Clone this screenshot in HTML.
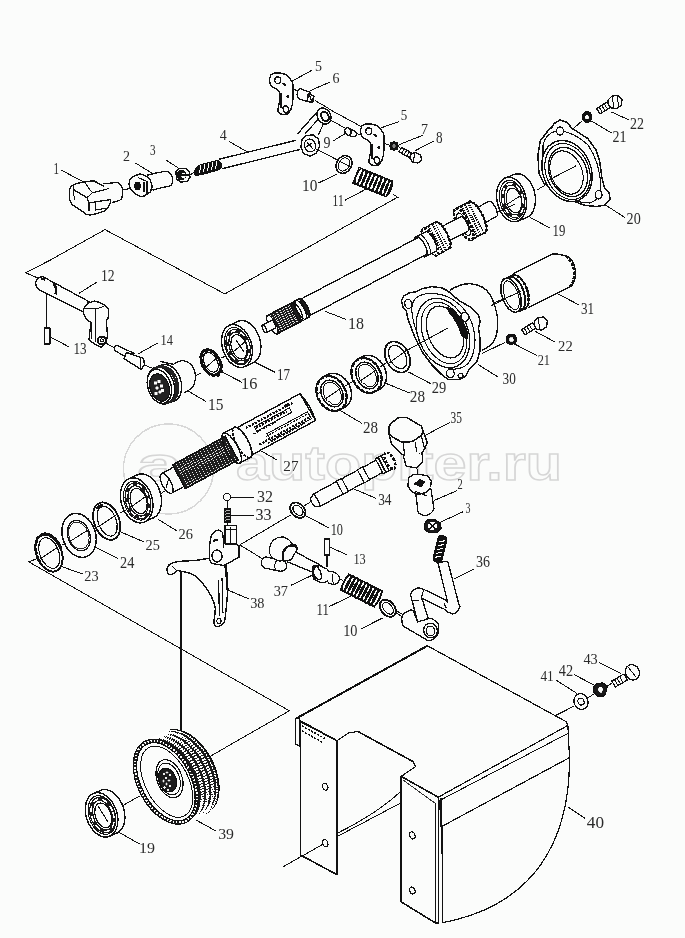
<!DOCTYPE html>
<html><head><meta charset="utf-8"><style>
html,body{margin:0;padding:0;background:#fbfcfb;}
body{width:685px;height:938px;overflow:hidden;}
svg{display:block;shape-rendering:crispEdges;}
.l{font-family:"Liberation Serif",serif;font-size:17px;fill:#2a2a2a;}
text{will-change:transform;}
.wm{font-family:"Liberation Sans",sans-serif;font-size:48px;font-weight:bold;fill:none;stroke:#d6d6d6;stroke-width:1.4;}
</style></head><body>
<svg width="685" height="938" viewBox="0 0 685 938">
<rect width="685" height="938" fill="#fbfcfb"/>
<text x="236" y="479.5" class="wm" textLength="326" lengthAdjust="spacingAndGlyphs">autopiter.ru</text>
<text x="137" y="480.5" class="wm" textLength="45" lengthAdjust="spacingAndGlyphs">a</text>
<ellipse cx="168.5" cy="469" rx="45" ry="45" transform="rotate(0 168.5 469)" fill="none" stroke="#d8d8d8" stroke-width="1.4" />
<polyline points="50.4,260 25.8,272.8 40,279" fill="none" stroke="#111" stroke-width="1" stroke-linejoin="round" />
<polyline points="50.4,260 105,229.6 224.8,293.9 398,197" fill="none" stroke="#111" stroke-width="1" stroke-linejoin="round" />
<polyline points="42,556.5 28.8,561.9 289.4,710.8 209,757" fill="none" stroke="#111" stroke-width="1" stroke-linejoin="round" />
<line x1="181" y1="572" x2="181" y2="733" stroke="#111" stroke-width="1.1"/>
<polygon points="296.3,718.4 427.4,645.8 566,721.6 567.9,725.4 438.6,797 401.2,776.4 415.6,766.5 413.2,761.7 358,731.5 348.8,732.8 337,740.7 300,720.5" fill="#fbfcfb" stroke="#111" stroke-width="1.2" stroke-linejoin="round" />
<line x1="296.3" y1="718.4" x2="427.4" y2="645.8" stroke="#111" stroke-width="2"/>
<polygon points="438.6,797 567.9,725.4 569.5,757.6 441.9,826.4" fill="#fbfcfb" stroke="#111" stroke-width="1.2" stroke-linejoin="round" />
<line x1="440.6" y1="800" x2="568.6" y2="733" stroke="#111" stroke-width="1"/>
<path d="M441.9,826.4 L569.5,757.6 C570,840 535,905 442.6,922.7 Z" fill="#fbfcfb" stroke="#111" stroke-width="1.2" stroke-linejoin="round" />
<path d="M337,836.6 L401.2,802.7" fill="none" stroke="#111" stroke-width="1" stroke-linejoin="round" />
<path d="M338.3,832.7 Q378,813 401.2,790.9" fill="none" stroke="#111" stroke-width="1" stroke-linejoin="round" />
<polygon points="300.5,721 337,740.7 337,874.7 300.5,855" fill="#fbfcfb" stroke="#111" stroke-width="1.6" stroke-linejoin="round" />
<polygon points="295.5,718.4 299.4,719 299.4,746 295.5,744" fill="#fbfcfb" stroke="#111" stroke-width="1.1" stroke-linejoin="round" />
<path d="M302,726 L326,739 M302,731 L322,742" stroke="#111" stroke-width="1.6" stroke-dasharray="2 1.5"/>
<ellipse cx="325.2" cy="786.7" rx="2.6" ry="3.6" transform="rotate(-20 325.2 786.7)" fill="#fbfcfb" stroke="#111" stroke-width="1.1" />
<ellipse cx="325.2" cy="843.2" rx="2.6" ry="3.6" transform="rotate(-20 325.2 843.2)" fill="#fbfcfb" stroke="#111" stroke-width="1.1" />
<line x1="283" y1="866.8" x2="322.5" y2="844.5" stroke="#111" stroke-width="1"/>
<polygon points="401.2,776.4 438.6,797.4 438.6,922.7 435,922.7 401.2,901.9" fill="#fbfcfb" stroke="#111" stroke-width="1.6" stroke-linejoin="round" />
<line x1="403" y1="780" x2="435.3" y2="803.4" stroke="#333" stroke-width="1"/>
<line x1="435.3" y1="803" x2="435.3" y2="922" stroke="#111" stroke-width="1"/>
<line x1="440.6" y1="798" x2="440.6" y2="827" stroke="#111" stroke-width="2"/>
<line x1="442.5" y1="826" x2="442.5" y2="922.7" stroke="#111" stroke-width="1.2"/>
<ellipse cx="412.3" cy="835.4" rx="2.6" ry="3.6" transform="rotate(-20 412.3 835.4)" fill="#fbfcfb" stroke="#111" stroke-width="1.1" />
<ellipse cx="412.3" cy="890.5" rx="2.6" ry="3.6" transform="rotate(-20 412.3 890.5)" fill="#fbfcfb" stroke="#111" stroke-width="1.1" />
<line x1="358" y1="731.5" x2="413.2" y2="761.7" stroke="#111" stroke-width="1.6"/>
<line x1="337" y1="740.7" x2="299.4" y2="721" stroke="#111" stroke-width="1.6"/>
<text x="586.8" y="828" textLength="17.2" lengthAdjust="spacingAndGlyphs" class="l" style="font-size:17.5px">40</text>
<line x1="585" y1="818.4" x2="568" y2="807" stroke="#111" stroke-width="1"/>
<ellipse cx="581" cy="701.6" rx="7" ry="8" transform="rotate(-20 581 701.6)" fill="#fbfcfb" stroke="#111" stroke-width="1.3" />
<ellipse cx="581" cy="701.6" rx="3" ry="3.5" transform="rotate(-20 581 701.6)" fill="#fbfcfb" stroke="#111" stroke-width="1.1" />
<polygon points="594,687 597,683.5 603,683 606.9,686.5 606.5,692.5 603,696.2 597,696 593.6,692" fill="#1a1a1a" stroke="#111" stroke-width="1.4" stroke-linejoin="round" />
<ellipse cx="600.5" cy="689.6" rx="2.2" ry="2.5" transform="rotate(0 600.5 689.6)" fill="#fbfcfb" stroke="#fff" stroke-width="0.8" />
<line x1="587.5" y1="698" x2="594" y2="694" stroke="#111" stroke-width="1"/>
<line x1="606.5" y1="686.5" x2="612" y2="683" stroke="#111" stroke-width="1"/>
<g transform="translate(617 682) rotate(-30)">
<polygon points="-4,-3.5 10,-3.5 10,3.5 -4,3.5" fill="#fbfcfb" stroke="#111" stroke-width="1.2" stroke-linejoin="round" />
<line x1="-1" y1="-3.5" x2="-1" y2="3.5" stroke="#111" stroke-width="1"/>
<line x1="2" y1="-3.5" x2="2" y2="3.5" stroke="#111" stroke-width="1"/>
<line x1="5" y1="-3.5" x2="5" y2="3.5" stroke="#111" stroke-width="1"/>
</g>
<ellipse cx="632.4" cy="672.3" rx="7" ry="7.8" transform="rotate(-25 632.4 672.3)" fill="#fbfcfb" stroke="#111" stroke-width="1.3" />
<line x1="628" y1="667" x2="636" y2="677" stroke="#111" stroke-width="1"/>
<line x1="554.6" y1="716" x2="573.5" y2="706.4" stroke="#111" stroke-width="1"/>
<text x="540.4" y="681" textLength="13.3" lengthAdjust="spacingAndGlyphs" class="l" style="font-size:15.6px">41</text>
<text x="558.8" y="675.8" textLength="14.3" lengthAdjust="spacingAndGlyphs" class="l" style="font-size:17.1px">42</text>
<text x="583.4" y="663.8" textLength="14.3" lengthAdjust="spacingAndGlyphs" class="l" style="font-size:15.6px">43</text>
<line x1="555.8" y1="679.9" x2="577" y2="693.5" stroke="#111" stroke-width="1"/>
<line x1="574.2" y1="674.7" x2="595" y2="685.5" stroke="#111" stroke-width="1"/>
<line x1="598.7" y1="662.5" x2="621.2" y2="673.7" stroke="#111" stroke-width="1"/>
<polygon points="133.3,766 133.4,763.6 133.5,761.2 133.8,758.9 134.3,756.7 134.8,754.6 135.5,752.6 136.3,750.7 137.2,749 138.2,747.4 139.3,745.9 140.5,744.5 141.9,743.3 143.3,742.3 144.8,741.4 165.3,731.8 166.9,731 168.6,730.5 170.3,730.1 172.2,729.8 174,729.7 175.9,729.8 177.9,730.1 179.9,730.5 181.9,731.1 183.9,731.9 186,732.8 188,733.8 190.1,735 192.1,736.4 194.1,737.9 196.1,739.5 198,741.3 199.9,743.2 201.7,745.2 203.5,747.3 205.2,749.5 206.8,751.8 208.4,754.2 209.8,756.6 211.2,759.1 212.5,761.7 213.7,764.3 214.7,766.9 215.7,769.6 216.5,772.2 217.2,774.9 217.8,777.5 218.3,780.2 218.6,782.8 218.9,785.3 219,787.8 218.9,790.2 218.8,792.6 218.5,794.9 218,797.1 217.5,799.2 216.8,801.2 216,803.1 215.1,804.8 214.1,806.4 213,807.9 211.8,809.3 210.4,810.5 209,811.5 207.5,812.4 187,822 185.4,822.8 183.7,823.3 182,823.7 180.1,824 178.3,824.1 176.4,824 174.4,823.7 172.4,823.3 170.4,822.7 168.4,821.9 166.3,821 164.3,820 162.2,818.8 160.2,817.4 158.2,815.9 156.2,814.3 154.3,812.5 152.4,810.6 150.6,808.6 148.8,806.5 147.1,804.3 145.5,802 143.9,799.6 142.5,797.2 141.1,794.7 139.8,792.1 138.6,789.5 137.6,786.9 136.6,784.2 135.8,781.6 135.1,778.9 134.5,776.3 134,773.6 133.7,771 133.4,768.5" fill="#1c1c1c" stroke="#111" stroke-width="1.3" stroke-linejoin="round" />
<line x1="193.2" y1="767.6" x2="210.0" y2="759.7" stroke="#fff" stroke-width="1.7" stroke-dasharray="3.5 2.2"/>
<line x1="194.4" y1="770.1" x2="211.3" y2="762.3" stroke="#fff" stroke-width="1.7" stroke-dasharray="3.5 2.2"/>
<line x1="195.6" y1="772.7" x2="212.4" y2="764.9" stroke="#fff" stroke-width="1.7" stroke-dasharray="3.5 2.2"/>
<line x1="196.7" y1="775.4" x2="213.5" y2="767.5" stroke="#fff" stroke-width="1.7" stroke-dasharray="3.5 2.2"/>
<line x1="197.6" y1="778.0" x2="214.4" y2="770.1" stroke="#fff" stroke-width="1.7" stroke-dasharray="3.5 2.2"/>
<line x1="198.5" y1="780.7" x2="215.3" y2="772.8" stroke="#fff" stroke-width="1.7" stroke-dasharray="3.5 2.2"/>
<line x1="199.2" y1="783.3" x2="216.0" y2="775.5" stroke="#fff" stroke-width="1.7" stroke-dasharray="3.5 2.2"/>
<line x1="199.8" y1="786.0" x2="216.6" y2="778.1" stroke="#fff" stroke-width="1.7" stroke-dasharray="3.5 2.2"/>
<line x1="200.3" y1="788.6" x2="217.1" y2="780.7" stroke="#fff" stroke-width="1.7" stroke-dasharray="3.5 2.2"/>
<line x1="200.6" y1="791.2" x2="217.4" y2="783.3" stroke="#fff" stroke-width="1.7" stroke-dasharray="3.5 2.2"/>
<line x1="200.8" y1="793.8" x2="217.6" y2="785.9" stroke="#fff" stroke-width="1.7" stroke-dasharray="3.5 2.2"/>
<line x1="200.9" y1="796.3" x2="217.7" y2="788.4" stroke="#fff" stroke-width="1.7" stroke-dasharray="3.5 2.2"/>
<line x1="200.9" y1="798.7" x2="217.7" y2="790.8" stroke="#fff" stroke-width="1.7" stroke-dasharray="3.5 2.2"/>
<line x1="200.7" y1="801.1" x2="217.5" y2="793.2" stroke="#fff" stroke-width="1.7" stroke-dasharray="3.5 2.2"/>
<line x1="200.4" y1="803.3" x2="217.2" y2="795.5" stroke="#fff" stroke-width="1.7" stroke-dasharray="3.5 2.2"/>
<line x1="200.0" y1="805.5" x2="216.8" y2="797.7" stroke="#fff" stroke-width="1.7" stroke-dasharray="3.5 2.2"/>
<line x1="199.5" y1="807.6" x2="216.3" y2="799.8" stroke="#fff" stroke-width="1.7" stroke-dasharray="3.5 2.2"/>
<line x1="198.8" y1="809.6" x2="215.6" y2="801.8" stroke="#fff" stroke-width="1.7" stroke-dasharray="3.5 2.2"/>
<line x1="198.0" y1="811.5" x2="214.8" y2="803.6" stroke="#fff" stroke-width="1.7" stroke-dasharray="3.5 2.2"/>
<line x1="197.1" y1="813.3" x2="213.9" y2="805.4" stroke="#fff" stroke-width="1.7" stroke-dasharray="3.5 2.2"/>
<line x1="196.1" y1="814.9" x2="212.9" y2="807.0" stroke="#fff" stroke-width="1.7" stroke-dasharray="3.5 2.2"/>
<line x1="194.9" y1="816.4" x2="211.8" y2="808.5" stroke="#fff" stroke-width="1.7" stroke-dasharray="3.5 2.2"/>
<line x1="193.7" y1="817.7" x2="210.5" y2="809.9" stroke="#fff" stroke-width="1.7" stroke-dasharray="3.5 2.2"/>
<line x1="192.4" y1="818.9" x2="209.2" y2="811.1" stroke="#fff" stroke-width="1.7" stroke-dasharray="3.5 2.2"/>
<line x1="191.0" y1="820.0" x2="207.8" y2="812.1" stroke="#fff" stroke-width="1.7" stroke-dasharray="3.5 2.2"/>
<line x1="189.4" y1="820.9" x2="206.2" y2="813.0" stroke="#fff" stroke-width="1.7" stroke-dasharray="3.5 2.2"/>
<line x1="187.8" y1="821.6" x2="204.7" y2="813.7" stroke="#fff" stroke-width="1.7" stroke-dasharray="3.5 2.2"/>
<line x1="186.2" y1="822.2" x2="203.0" y2="814.3" stroke="#fff" stroke-width="1.7" stroke-dasharray="3.5 2.2"/>
<line x1="184.4" y1="822.6" x2="201.2" y2="814.7" stroke="#fff" stroke-width="1.7" stroke-dasharray="3.5 2.2"/>
<line x1="182.6" y1="822.8" x2="199.4" y2="815.0" stroke="#fff" stroke-width="1.7" stroke-dasharray="3.5 2.2"/>
<line x1="180.7" y1="822.9" x2="197.6" y2="815.0" stroke="#fff" stroke-width="1.7" stroke-dasharray="3.5 2.2"/>
<line x1="178.8" y1="822.8" x2="195.6" y2="814.9" stroke="#fff" stroke-width="1.7" stroke-dasharray="3.5 2.2"/>
<line x1="139.6" y1="747.8" x2="156.4" y2="740.0" stroke="#fff" stroke-width="1.7" stroke-dasharray="3.5 2.2"/>
<line x1="140.6" y1="746.2" x2="157.5" y2="738.3" stroke="#fff" stroke-width="1.7" stroke-dasharray="3.5 2.2"/>
<line x1="141.8" y1="744.7" x2="158.6" y2="736.8" stroke="#fff" stroke-width="1.7" stroke-dasharray="3.5 2.2"/>
<line x1="143.0" y1="743.4" x2="159.8" y2="735.5" stroke="#fff" stroke-width="1.7" stroke-dasharray="3.5 2.2"/>
<line x1="144.3" y1="742.2" x2="161.1" y2="734.3" stroke="#fff" stroke-width="1.7" stroke-dasharray="3.5 2.2"/>
<line x1="145.8" y1="741.1" x2="162.6" y2="733.2" stroke="#fff" stroke-width="1.7" stroke-dasharray="3.5 2.2"/>
<line x1="147.3" y1="740.2" x2="164.1" y2="732.4" stroke="#fff" stroke-width="1.7" stroke-dasharray="3.5 2.2"/>
<line x1="148.9" y1="739.5" x2="165.7" y2="731.6" stroke="#fff" stroke-width="1.7" stroke-dasharray="3.5 2.2"/>
<line x1="150.6" y1="738.9" x2="167.4" y2="731.0" stroke="#fff" stroke-width="1.7" stroke-dasharray="3.5 2.2"/>
<line x1="152.3" y1="738.5" x2="169.1" y2="730.6" stroke="#fff" stroke-width="1.7" stroke-dasharray="3.5 2.2"/>
<line x1="154.1" y1="738.3" x2="170.9" y2="730.4" stroke="#fff" stroke-width="1.7" stroke-dasharray="3.5 2.2"/>
<line x1="156.0" y1="738.2" x2="172.8" y2="730.3" stroke="#fff" stroke-width="1.7" stroke-dasharray="3.5 2.2"/>
<line x1="157.9" y1="738.3" x2="174.7" y2="730.4" stroke="#fff" stroke-width="1.7" stroke-dasharray="3.5 2.2"/>
<line x1="159.9" y1="738.5" x2="176.7" y2="730.7" stroke="#fff" stroke-width="1.7" stroke-dasharray="3.5 2.2"/>
<line x1="161.8" y1="739.0" x2="178.7" y2="731.1" stroke="#fff" stroke-width="1.7" stroke-dasharray="3.5 2.2"/>
<line x1="163.9" y1="739.6" x2="180.7" y2="731.7" stroke="#fff" stroke-width="1.7" stroke-dasharray="3.5 2.2"/>
<line x1="165.9" y1="740.3" x2="182.7" y2="732.4" stroke="#fff" stroke-width="1.7" stroke-dasharray="3.5 2.2"/>
<line x1="167.9" y1="741.2" x2="184.7" y2="733.3" stroke="#fff" stroke-width="1.7" stroke-dasharray="3.5 2.2"/>
<line x1="170.0" y1="742.3" x2="186.8" y2="734.4" stroke="#fff" stroke-width="1.7" stroke-dasharray="3.5 2.2"/>
<line x1="172.0" y1="743.5" x2="188.8" y2="735.6" stroke="#fff" stroke-width="1.7" stroke-dasharray="3.5 2.2"/>
<line x1="174.0" y1="744.9" x2="190.9" y2="737.0" stroke="#fff" stroke-width="1.7" stroke-dasharray="3.5 2.2"/>
<line x1="176.0" y1="746.4" x2="192.9" y2="738.5" stroke="#fff" stroke-width="1.7" stroke-dasharray="3.5 2.2"/>
<line x1="178.0" y1="748.0" x2="194.8" y2="740.1" stroke="#fff" stroke-width="1.7" stroke-dasharray="3.5 2.2"/>
<line x1="179.9" y1="749.8" x2="196.8" y2="741.9" stroke="#fff" stroke-width="1.7" stroke-dasharray="3.5 2.2"/>
<line x1="181.8" y1="751.6" x2="198.6" y2="743.8" stroke="#fff" stroke-width="1.7" stroke-dasharray="3.5 2.2"/>
<line x1="183.7" y1="753.6" x2="200.5" y2="745.8" stroke="#fff" stroke-width="1.7" stroke-dasharray="3.5 2.2"/>
<line x1="185.4" y1="755.8" x2="202.3" y2="747.9" stroke="#fff" stroke-width="1.7" stroke-dasharray="3.5 2.2"/>
<line x1="187.2" y1="758.0" x2="204.0" y2="750.1" stroke="#fff" stroke-width="1.7" stroke-dasharray="3.5 2.2"/>
<line x1="188.8" y1="760.2" x2="205.6" y2="752.4" stroke="#fff" stroke-width="1.7" stroke-dasharray="3.5 2.2"/>
<line x1="190.3" y1="762.6" x2="207.1" y2="754.8" stroke="#fff" stroke-width="1.7" stroke-dasharray="3.5 2.2"/>
<line x1="191.8" y1="765.1" x2="208.6" y2="757.2" stroke="#fff" stroke-width="1.7" stroke-dasharray="3.5 2.2"/>
<ellipse cx="165.9" cy="781.7" rx="28" ry="45.5" transform="rotate(-27.6 165.9 781.7)" fill="#fbfcfb" stroke="#111" stroke-width="1.3" />
<ellipse cx="165.9" cy="781.7" rx="26.7" ry="44.2" transform="rotate(-27.6 165.9 781.7)" fill="none" stroke="#1a1a1a" stroke-width="3" stroke-dasharray="1.6 1.6"/>
<ellipse cx="165.9" cy="781.7" rx="24.7" ry="42.2" transform="rotate(-27.6 165.9 781.7)" fill="none" stroke="#111" stroke-width="1.3" />
<ellipse cx="166.7" cy="781.7" rx="21.5" ry="38.5" transform="rotate(-27.6 166.7 781.7)" fill="none" stroke="#111" stroke-width="1.0" />
<ellipse cx="169.5" cy="778.7" rx="12.5" ry="19.8" transform="rotate(-20 169.5 778.7)" fill="#fbfcfb" stroke="#111" stroke-width="1.2" />
<ellipse cx="169" cy="779" rx="10.5" ry="16.5" transform="rotate(-20 169 779)" fill="none" stroke="#111" stroke-width="1.0" />
<ellipse cx="167.6" cy="780" rx="8.5" ry="12.2" transform="rotate(-22 167.6 780)" fill="#1c1c1c" stroke="#111" stroke-width="1.2" />
<ellipse cx="164" cy="774" rx="1.1" ry="1.1" transform="rotate(0 164 774)" fill="#eee" stroke="#eee" stroke-width="0.3" />
<ellipse cx="167" cy="772.5" rx="1.1" ry="1.1" transform="rotate(0 167 772.5)" fill="#eee" stroke="#eee" stroke-width="0.3" />
<ellipse cx="170" cy="775" rx="1.1" ry="1.1" transform="rotate(0 170 775)" fill="#eee" stroke="#eee" stroke-width="0.3" />
<ellipse cx="166" cy="778" rx="1.1" ry="1.1" transform="rotate(0 166 778)" fill="#eee" stroke="#eee" stroke-width="0.3" />
<ellipse cx="169" cy="780.5" rx="1.1" ry="1.1" transform="rotate(0 169 780.5)" fill="#eee" stroke="#eee" stroke-width="0.3" />
<ellipse cx="163.5" cy="781" rx="1.1" ry="1.1" transform="rotate(0 163.5 781)" fill="#eee" stroke="#eee" stroke-width="0.3" />
<ellipse cx="166.5" cy="784" rx="1.1" ry="1.1" transform="rotate(0 166.5 784)" fill="#eee" stroke="#eee" stroke-width="0.3" />
<ellipse cx="170" cy="786" rx="1.1" ry="1.1" transform="rotate(0 170 786)" fill="#eee" stroke="#eee" stroke-width="0.3" />
<ellipse cx="164.5" cy="787.5" rx="1.1" ry="1.1" transform="rotate(0 164.5 787.5)" fill="#eee" stroke="#eee" stroke-width="0.3" />
<ellipse cx="168" cy="790" rx="1.1" ry="1.1" transform="rotate(0 168 790)" fill="#eee" stroke="#eee" stroke-width="0.3" />
<text x="218.2" y="838.5" textLength="15.8" lengthAdjust="spacingAndGlyphs" class="l" style="font-size:14.5px">39</text>
<line x1="216" y1="831" x2="196" y2="820" stroke="#111" stroke-width="1"/>
<polygon points="85.3,810.2 85.3,808.3 85.5,806.5 85.7,804.7 86.1,803 86.6,801.4 87.2,799.9 87.9,798.5 88.7,797.3 89.6,796.2 90.7,795.2 91.7,794.3 92.9,793.7 99.9,790.7 101.1,790.1 102.4,789.8 103.8,789.6 105.1,789.6 106.5,789.7 108,790.1 109.4,790.6 110.8,791.2 112.2,792 113.6,793 114.9,794.1 116.2,795.3 117.4,796.7 118.6,798.1 119.6,799.7 120.6,801.4 121.6,803.1 122.4,805 123.1,806.8 123.7,808.7 124.1,810.7 124.5,812.6 124.7,814.5 124.9,816.4 124.9,818.3 124.7,820.1 124.5,821.9 124.1,823.6 123.6,825.2 123,826.7 122.3,828.1 121.5,829.3 120.6,830.4 119.5,831.4 118.5,832.3 117.3,832.9 110.3,835.9 109.1,836.5 107.8,836.8 106.4,837 105.1,837 103.7,836.9 102.2,836.5 100.8,836 99.4,835.4 98,834.6 96.6,833.6 95.3,832.5 94,831.3 92.8,829.9 91.6,828.5 90.6,826.9 89.6,825.2 88.6,823.5 87.8,821.6 87.1,819.8 86.5,817.9 86.1,815.9 85.7,814 85.5,812.1" fill="#fbfcfb" stroke="#111" stroke-width="1.4" stroke-linejoin="round" />
<ellipse cx="101.6" cy="814.8" rx="15.3" ry="22.9" transform="rotate(-19 101.6 814.8)" fill="#fbfcfb" stroke="#111" stroke-width="1.4" />
<ellipse cx="102" cy="815" rx="13" ry="20" transform="rotate(-19 102 815)" fill="none" stroke="#111" stroke-width="1.1" />
<ellipse cx="102.6" cy="815.2" rx="10.6" ry="16.8" transform="rotate(-19 102.6 815.2)" fill="none" stroke="#1a1a1a" stroke-width="4" />
<ellipse cx="102.6" cy="815.2" rx="10.6" ry="16.8" transform="rotate(-19 102.6 815.2)" fill="none" stroke="#fff" stroke-width="1.6" stroke-dasharray="6 4"/>
<ellipse cx="103.2" cy="815.4" rx="7.8" ry="12.8" transform="rotate(-19 103.2 815.4)" fill="#fbfcfb" stroke="#111" stroke-width="1.2" />
<line x1="98" y1="806" x2="108" y2="822" stroke="#111" stroke-width="1"/>
<text x="139" y="852.7" textLength="16" lengthAdjust="spacingAndGlyphs" class="l" style="font-size:15.5px">19</text>
<line x1="118" y1="831.7" x2="139.6" y2="844" stroke="#111" stroke-width="1"/>
<line x1="123.2" y1="805.4" x2="139.6" y2="796" stroke="#111" stroke-width="1"/>
<polygon points="69.6,189.5 71.2,186.5 75.2,183.9 84.4,181.9 93.6,180.8 97.7,182.9 102.3,185.4 107.9,188 110.5,191.6 111.5,195.7 110.5,202.8 107.9,207.9 104.9,211 98.7,213 90.6,215 86.5,214.6 83.4,212 77.3,207.9 71.7,204.3 69.6,199.7" fill="#fbfcfb" stroke="#111" stroke-width="1.4" stroke-linejoin="round" />
<path d="M102.8,183.9 L117.1,182.4 Q121.5,184 122.5,189 Q123.5,196 120.7,199.7 Q117,202 112,202.3" fill="#fbfcfb" stroke="#111" stroke-width="1.3" stroke-linejoin="round" />
<polyline points="74.2,190 87,197.7 89,203 89,211" fill="none" stroke="#111" stroke-width="1.3" stroke-linejoin="round" />
<polyline points="89.5,202.8 110,199.7" fill="none" stroke="#111" stroke-width="1.3" stroke-linejoin="round" />
<polyline points="95.7,203 95.7,210 108,208" fill="none" stroke="#111" stroke-width="1.2" stroke-linejoin="round" />
<polyline points="87,197.7 92,193 109,188.5" fill="none" stroke="#111" stroke-width="1.1" stroke-linejoin="round" />
<polyline points="74,186 73,192 75,200" fill="none" stroke="#111" stroke-width="1.1" stroke-linejoin="round" />
<polyline points="84.4,181.9 91.6,192" fill="none" stroke="#111" stroke-width="1.0" stroke-linejoin="round" />
<line x1="122.8" y1="190" x2="130" y2="188.5" stroke="#111" stroke-width="1"/>
<text x="53.5" y="174" textLength="5.5" lengthAdjust="spacingAndGlyphs" class="l" style="font-size:17.5px">1</text>
<line x1="61" y1="170" x2="85.5" y2="183" stroke="#111" stroke-width="1"/>
<polyline points="147,175.3 154.6,173.3 165.9,171.2" fill="none" stroke="#111" stroke-width="1.3" stroke-linejoin="round" />
<path d="M165.9,171.2 Q170,172 172,176 Q174,182 171,185.5 Q168,187 163.8,187.1 L152.6,190.1" fill="none" stroke="#111" stroke-width="1.3" stroke-linejoin="round" />
<polygon points="129.6,180.4 133.2,176.4 140.3,173.8 146.5,176.4 150.5,180.4 152.1,186.6 150.5,191.7 144.9,195.8 141.3,196.8 135.2,193.7 130.6,189.1 129.1,184.5" fill="#fbfcfb" stroke="#111" stroke-width="1.4" stroke-linejoin="round" />
<polyline points="138,177.5 147,181.5 147,193.5" fill="none" stroke="#111" stroke-width="1.1" stroke-linejoin="round" />
<ellipse cx="137.5" cy="186" rx="2.8" ry="3.8" transform="rotate(0 137.5 186)" fill="#111" stroke="#111" stroke-width="1" />
<line x1="144" y1="182" x2="144" y2="192" stroke="#111" stroke-width="1.1"/>
<text x="123" y="161" textLength="7" lengthAdjust="spacingAndGlyphs" class="l" style="font-size:14.5px">2</text>
<line x1="134.7" y1="162.6" x2="153.1" y2="173.8" stroke="#111" stroke-width="1"/>
<polygon points="176,172 179,168.5 185,168.2 189.5,171.5 189.9,177.5 187,181.5 181,182 176.5,179" fill="#fbfcfb" stroke="#111" stroke-width="1.4" stroke-linejoin="round" />
<ellipse cx="181.5" cy="175" rx="3.5" ry="4" transform="rotate(0 181.5 175)" fill="#111" stroke="#111" stroke-width="2.4" />
<ellipse cx="183.5" cy="175.5" rx="2.2" ry="2.5" transform="rotate(0 183.5 175.5)" fill="#fbfcfb" stroke="#fff" stroke-width="0.8" />
<line x1="176" y1="175" x2="189" y2="175" stroke="#111" stroke-width="1.2"/>
<text x="150" y="155" textLength="5.6" lengthAdjust="spacingAndGlyphs" class="l" style="font-size:15.6px">3</text>
<line x1="165.9" y1="160" x2="178" y2="167.7" stroke="#111" stroke-width="1"/>
<line x1="189" y1="175.5" x2="194" y2="172.5" stroke="#111" stroke-width="1"/>
<polyline points="219.2,159.2 295.6,140.4" fill="none" stroke="#111" stroke-width="1.3" stroke-linejoin="round" />
<polyline points="221.8,168.8 299.9,149.5" fill="none" stroke="#111" stroke-width="1.3" stroke-linejoin="round" />
<path d="M196,169 Q193,172 195.5,175.5 L203,174 L216,170.5 Q222,169.5 221.5,164 Q220,160.5 215.5,161 L201,164.8 Q197,166 196,169 Z" fill="#111" stroke="#111" stroke-width="1.4" stroke-linejoin="round" />
<line x1="199.5" y1="172.8" x2="201" y2="165.5" stroke="#fff" stroke-width="1"/>
<line x1="203.5" y1="171.8" x2="205" y2="164.5" stroke="#fff" stroke-width="1"/>
<line x1="207.5" y1="170.8" x2="209" y2="163.5" stroke="#fff" stroke-width="1"/>
<line x1="211.5" y1="169.8" x2="213" y2="162.5" stroke="#fff" stroke-width="1"/>
<line x1="215.5" y1="168.8" x2="217" y2="161.5" stroke="#fff" stroke-width="1"/>
<text x="219.7" y="140" textLength="7" lengthAdjust="spacingAndGlyphs" class="l" style="font-size:14.5px">4</text>
<line x1="229" y1="141.5" x2="247.7" y2="152" stroke="#111" stroke-width="1"/>
<polyline points="297.3,134.2 318.3,110.5" fill="none" stroke="#111" stroke-width="1.3" stroke-linejoin="round" />
<polyline points="305.1,133.3 321.8,115.8" fill="none" stroke="#111" stroke-width="1.3" stroke-linejoin="round" />
<polyline points="323.5,123.6 318.3,135" fill="none" stroke="#111" stroke-width="1.2" stroke-linejoin="round" />
<ellipse cx="324" cy="116" rx="6.5" ry="8.5" transform="rotate(-30 324 116)" fill="#fbfcfb" stroke="#111" stroke-width="1.4" />
<ellipse cx="325" cy="116.5" rx="3.5" ry="5" transform="rotate(-30 325 116.5)" fill="#fbfcfb" stroke="#111" stroke-width="2" />
<polygon points="302,140 306,135.5 313,135 318.5,139 319.5,146 316.5,153 310,156 303.5,153.5 301,147" fill="#fbfcfb" stroke="#111" stroke-width="1.4" stroke-linejoin="round" />
<ellipse cx="310" cy="145.5" rx="5.5" ry="6.5" transform="rotate(-20 310 145.5)" fill="#fbfcfb" stroke="#111" stroke-width="1.2" />
<line x1="307" y1="142" x2="313" y2="149" stroke="#111" stroke-width="1.2"/>
<line x1="306" y1="147" x2="312" y2="143" stroke="#111" stroke-width="1"/>
<text x="323.5" y="148.2" textLength="7" lengthAdjust="spacingAndGlyphs" class="l" style="font-size:15.9px">9</text>
<line x1="333.6" y1="140.7" x2="347.7" y2="132" stroke="#111" stroke-width="1"/>
<line x1="316.5" y1="149" x2="337.7" y2="160.2" stroke="#111" stroke-width="1"/>
<line x1="328.8" y1="109" x2="362.8" y2="127.4" stroke="#111" stroke-width="1"/>
<line x1="315" y1="100.5" x2="328.8" y2="108.5" stroke="#111" stroke-width="1"/>
<line x1="330.5" y1="120.1" x2="345" y2="128" stroke="#111" stroke-width="1"/>
<polygon points="269.4,79.5 270.8,75.1 274.3,72.9 279.5,72.9 285.2,74.3 289.1,77.3 292.2,82.1 293.5,87.4 293.1,95.3 292.6,103.2 290.9,109.3 288.3,113.7 283.9,114.5 279.5,113.7 277.8,111 278.6,105.8 280,98.8 279.5,92.6 276.9,89.1 273.4,87.4 270.3,84.8" fill="#fbfcfb" stroke="#111" stroke-width="1.4" stroke-linejoin="round" />
<ellipse cx="277.8" cy="80.2" rx="3" ry="3.3" transform="rotate(0 277.8 80.2)" fill="#fbfcfb" stroke="#111" stroke-width="1.3" />
<ellipse cx="285.9" cy="109.3" rx="2.7" ry="3.4" transform="rotate(-20 285.9 109.3)" fill="#fbfcfb" stroke="#111" stroke-width="1.3" />
<ellipse cx="287.8" cy="96.6" rx="0.9" ry="0.9" transform="rotate(0 287.8 96.6)" fill="#111" stroke="#111" stroke-width="1" />
<line x1="280.8" y1="93" x2="280.6" y2="108" stroke="#111" stroke-width="2"/>
<polyline points="283,83 285.6,86" fill="none" stroke="#111" stroke-width="2" stroke-linejoin="round" />
<line x1="292.2" y1="84" x2="293.5" y2="99" stroke="#111" stroke-width="1.0"/>
<polygon points="360.4,130.5 361.8,126.1 365.3,123.9 370.5,123.9 376.2,125.3 380.1,128.3 383.2,133.1 384.5,138.4 384.1,146.3 383.6,154.2 381.9,160.3 379.3,164.7 374.9,165.5 370.5,164.7 368.8,162 369.6,156.8 371,149.8 370.5,143.6 367.9,140.1 364.4,138.4 361.3,135.8" fill="#fbfcfb" stroke="#111" stroke-width="1.4" stroke-linejoin="round" />
<ellipse cx="368.8" cy="131.2" rx="3" ry="3.3" transform="rotate(0 368.8 131.2)" fill="#fbfcfb" stroke="#111" stroke-width="1.3" />
<ellipse cx="376.9" cy="160.3" rx="2.7" ry="3.4" transform="rotate(-20 376.9 160.3)" fill="#fbfcfb" stroke="#111" stroke-width="1.3" />
<ellipse cx="378.8" cy="147.6" rx="0.9" ry="0.9" transform="rotate(0 378.8 147.6)" fill="#111" stroke="#111" stroke-width="1" />
<line x1="371.8" y1="144" x2="371.6" y2="159" stroke="#111" stroke-width="2"/>
<polyline points="374,134 376.6,137" fill="none" stroke="#111" stroke-width="2" stroke-linejoin="round" />
<line x1="383.2" y1="135" x2="384.5" y2="150" stroke="#111" stroke-width="1.0"/>
<path d="M300.5,88.7 L310.6,92.6 L307.5,101.8 L299.7,99.2 Q296.5,97 297.2,93 Q298.2,88.8 300.5,88.7 Z" fill="#fbfcfb" stroke="#111" stroke-width="1.3" stroke-linejoin="round" />
<polygon points="308.5,93.5 313.8,96.2 312.5,102.5 307,101.2" fill="#fbfcfb" stroke="#111" stroke-width="1.6" stroke-linejoin="round" />
<line x1="309.5" y1="95" x2="311.5" y2="101" stroke="#111" stroke-width="1.2"/>
<line x1="293.5" y1="89" x2="297.5" y2="91" stroke="#111" stroke-width="1"/>
<text x="315" y="71" textLength="7" lengthAdjust="spacingAndGlyphs" class="l" style="font-size:15.2px">5</text>
<line x1="292.6" y1="80.8" x2="311.9" y2="70.3" stroke="#111" stroke-width="1"/>
<text x="332.4" y="83" textLength="7" lengthAdjust="spacingAndGlyphs" class="l" style="font-size:14.5px">6</text>
<line x1="309.7" y1="90.9" x2="330" y2="82" stroke="#111" stroke-width="1"/>
<text x="400.8" y="120" textLength="6.5" lengthAdjust="spacingAndGlyphs" class="l" style="font-size:14.5px">5</text>
<line x1="399" y1="121.6" x2="379" y2="128.6" stroke="#111" stroke-width="1"/>
<path d="M347,127.5 L354.5,131 Q357.5,133.5 356,136 L351.5,136.8 L345.5,133.5 Q343.5,129.5 347,127.5 Z" fill="#fbfcfb" stroke="#111" stroke-width="1.3" stroke-linejoin="round" />
<ellipse cx="348" cy="131.5" rx="3" ry="4" transform="rotate(-25 348 131.5)" fill="#fbfcfb" stroke="#111" stroke-width="1.3" />
<line x1="352" y1="129.5" x2="350" y2="136" stroke="#111" stroke-width="1.2"/>
<line x1="356.5" y1="133.5" x2="361" y2="135" stroke="#111" stroke-width="1"/>
<polygon points="398.9,146 397.4,147.4 397.5,149.5 395.4,149.4 394,150.9 392.6,149.4 390.5,149.5 390.6,147.4 389.1,146 390.6,144.6 390.5,142.5 392.6,142.6 394,141.1 395.4,142.6 397.5,142.5 397.4,144.6" fill="#111" stroke="#111" stroke-width="1" stroke-linejoin="round" />
<ellipse cx="394" cy="146" rx="1.5" ry="1.8" transform="rotate(0 394 146)" fill="#888" stroke="#888" stroke-width="0.6" />
<g transform="translate(405.5 152.5) rotate(30)">
<polygon points="-6,-2.6 6,-2.6 6,2.6 -6,2.6" fill="#fbfcfb" stroke="#111" stroke-width="1.3" stroke-linejoin="round" />
<line x1="-3" y1="-2.6" x2="-3" y2="2.6" stroke="#111" stroke-width="1"/>
<line x1="0" y1="-2.6" x2="0" y2="2.6" stroke="#111" stroke-width="1"/>
<line x1="3" y1="-2.6" x2="3" y2="2.6" stroke="#111" stroke-width="1"/>
</g>
<polygon points="411,154 415,152.5 420.5,155 421.7,160 418,163 412.5,162 410,158" fill="#fbfcfb" stroke="#111" stroke-width="1.4" stroke-linejoin="round" />
<line x1="414.5" y1="153" x2="413.5" y2="162" stroke="#111" stroke-width="1.1"/>
<text x="421" y="134" textLength="7" lengthAdjust="spacingAndGlyphs" class="l" style="font-size:14.5px">7</text>
<line x1="422.5" y1="135.4" x2="399" y2="144.7" stroke="#111" stroke-width="1"/>
<text x="436" y="143" textLength="6.6" lengthAdjust="spacingAndGlyphs" class="l" style="font-size:15.9px">8</text>
<line x1="434" y1="141" x2="415.5" y2="150.5" stroke="#111" stroke-width="1"/>
<line x1="383" y1="143" x2="389" y2="145" stroke="#111" stroke-width="1"/>
<line x1="399.5" y1="147.5" x2="401" y2="148.5" stroke="#111" stroke-width="1"/>
<ellipse cx="344" cy="164.5" rx="7.5" ry="9.3" transform="rotate(30 344 164.5)" fill="#fbfcfb" stroke="#111" stroke-width="1.6" />
<ellipse cx="344" cy="164.5" rx="5.2" ry="7" transform="rotate(30 344 164.5)" fill="none" stroke="#111" stroke-width="1.0" />
<line x1="338" y1="160.5" x2="351" y2="167" stroke="#111" stroke-width="1"/>
<text x="302" y="191.4" textLength="15.4" lengthAdjust="spacingAndGlyphs" class="l" style="font-size:17.5px">10</text>
<line x1="318.5" y1="183" x2="337" y2="174" stroke="#111" stroke-width="1"/>
<g transform="translate(373.5 182.5) rotate(22)">
<polygon points="-19,-8.5 17,-8.5 17,8.5 -19,8.5" fill="#fbfcfb" stroke="#111" stroke-width="1.2" stroke-linejoin="round" />
<ellipse cx="-16.0" cy="0" rx="2.6" ry="8.5" fill="none" stroke="#111" stroke-width="1.7"/>
<ellipse cx="-12.0" cy="0" rx="2.6" ry="8.5" fill="none" stroke="#111" stroke-width="1.7"/>
<ellipse cx="-8.0" cy="0" rx="2.6" ry="8.5" fill="none" stroke="#111" stroke-width="1.7"/>
<ellipse cx="-4.0" cy="0" rx="2.6" ry="8.5" fill="none" stroke="#111" stroke-width="1.7"/>
<ellipse cx="0.0" cy="0" rx="2.6" ry="8.5" fill="none" stroke="#111" stroke-width="1.7"/>
<ellipse cx="4.0" cy="0" rx="2.6" ry="8.5" fill="none" stroke="#111" stroke-width="1.7"/>
<ellipse cx="8.0" cy="0" rx="2.6" ry="8.5" fill="none" stroke="#111" stroke-width="1.7"/>
<ellipse cx="12.0" cy="0" rx="2.6" ry="8.5" fill="none" stroke="#111" stroke-width="1.7"/>
<ellipse cx="16.0" cy="0" rx="2.6" ry="8.5" fill="none" stroke="#111" stroke-width="1.7"/>
</g>
<text x="332.6" y="206.1" textLength="11.1" lengthAdjust="spacingAndGlyphs" class="l" style="font-size:16.8px">11</text>
<line x1="344.9" y1="200.3" x2="365.9" y2="189.2" stroke="#111" stroke-width="1"/>
<line x1="392.7" y1="193.9" x2="398.6" y2="198" stroke="#111" stroke-width="1"/>
<polygon points="554.2,123.5 560,120 567,122.4 571.8,128.2 588,138.7 596.3,150.4 599.8,162 602,178.4 604.5,187.8 609,192.5 610.3,199.5 604.5,205.3 596.3,206.5 584.6,205.3 569.4,199.5 553,190 543.7,183 539,173.8 537.9,155 540.2,141 547.2,131.7 552,127" fill="#fbfcfb" stroke="#111" stroke-width="1.5" stroke-linejoin="round" />
<path d="M543,145 Q545,134 556,131 Q572,130 588,145 Q600,162 601,188 Q600,200 590,203 Q572,203 556,190 Q544,178 543,160 Z" fill="none" stroke="#111" stroke-width="1.1" stroke-linejoin="round" />
<ellipse cx="567" cy="171" rx="24" ry="31.5" transform="rotate(-22 567 171)" fill="#fbfcfb" stroke="#111" stroke-width="1.4" />
<ellipse cx="567.5" cy="171.5" rx="21.5" ry="29" transform="rotate(-22 567.5 171.5)" fill="none" stroke="#111" stroke-width="1.1" />
<ellipse cx="568" cy="172" rx="18.5" ry="25.5" transform="rotate(-22 568 172)" fill="#fbfcfb" stroke="#111" stroke-width="1.4" />
<ellipse cx="566.5" cy="172.5" rx="15.5" ry="22.5" transform="rotate(-22 566.5 172.5)" fill="none" stroke="#111" stroke-width="1.1" />
<ellipse cx="560" cy="131" rx="3.4" ry="4" transform="rotate(0 560 131)" fill="#fbfcfb" stroke="#111" stroke-width="1.3" />
<ellipse cx="598.6" cy="194.7" rx="3.4" ry="4.2" transform="rotate(0 598.6 194.7)" fill="#fbfcfb" stroke="#111" stroke-width="1.3" />
<line x1="547" y1="181" x2="576.4" y2="165.6" stroke="#111" stroke-width="1"/>
<line x1="582" y1="121" x2="574" y2="128" stroke="#111" stroke-width="1"/>
<text x="626.6" y="224" textLength="14.1" lengthAdjust="spacingAndGlyphs" class="l" style="font-size:17.5px">20</text>
<line x1="603.9" y1="204" x2="624.9" y2="217.5" stroke="#111" stroke-width="1"/>
<g transform="translate(605 107) rotate(-32)">
<polygon points="-8,-3.2 5,-3.2 5,3.2 -8,3.2" fill="#fbfcfb" stroke="#111" stroke-width="1.3" stroke-linejoin="round" />
<line x1="-5" y1="-3.2" x2="-5" y2="3.2" stroke="#111" stroke-width="1"/>
<line x1="-2" y1="-3.2" x2="-2" y2="3.2" stroke="#111" stroke-width="1"/>
<line x1="1" y1="-3.2" x2="1" y2="3.2" stroke="#111" stroke-width="1"/>
</g>
<polygon points="608,100 612,96 618,95.5 622,99 621.5,105 617,108.4 611,108 608,104" fill="#fbfcfb" stroke="#111" stroke-width="1.4" stroke-linejoin="round" />
<line x1="612" y1="96.5" x2="614" y2="107.5" stroke="#111" stroke-width="1.1"/>
<line x1="617" y1="96" x2="619" y2="107" stroke="#111" stroke-width="1"/>
<polygon points="582.5,115 585.5,112 590,112.3 591.6,116.5 590.5,121.5 586,122.4 582.5,119.5" fill="#111" stroke="#111" stroke-width="1.5" stroke-linejoin="round" />
<ellipse cx="587" cy="117.2" rx="1.7" ry="2" transform="rotate(0 587 117.2)" fill="#fbfcfb" stroke="#fff" stroke-width="0.8" />
<text x="630" y="129.4" textLength="14" lengthAdjust="spacingAndGlyphs" class="l" style="font-size:17.5px">22</text>
<line x1="629" y1="120" x2="611.5" y2="112" stroke="#111" stroke-width="1"/>
<text x="612.6" y="142.2" textLength="14" lengthAdjust="spacingAndGlyphs" class="l" style="font-size:17.5px">21</text>
<line x1="611.5" y1="133" x2="591.6" y2="121" stroke="#111" stroke-width="1"/>
<polygon points="496.6,194.8 496.7,192.9 496.9,191.1 497.2,189.3 497.6,187.7 498.2,186.1 498.8,184.6 499.5,183.2 500.4,181.9 501.3,180.8 502.3,179.9 503.3,179 504.4,178.3 505.6,177.8 514.6,174.3 515.8,174 517.1,173.8 518.4,173.8 519.7,174 521,174.3 522.3,174.8 523.5,175.4 524.8,176.2 526,177.2 527.2,178.3 528.4,179.5 529.4,180.9 530.4,182.4 531.4,184 532.2,185.6 533,187.4 533.7,189.2 534.2,191.1 534.7,193 535,194.9 535.3,196.9 535.4,198.8 535.4,200.7 535.3,202.6 535.1,204.4 534.8,206.2 534.4,207.8 533.8,209.4 533.2,210.9 532.5,212.3 531.6,213.6 530.7,214.7 529.7,215.6 528.7,216.5 527.6,217.2 526.4,217.7 517.4,221.2 516.2,221.5 514.9,221.7 513.6,221.7 512.3,221.5 511,221.2 509.7,220.7 508.5,220.1 507.2,219.3 506,218.3 504.8,217.2 503.6,216 502.6,214.6 501.6,213.1 500.6,211.5 499.8,209.9 499,208.1 498.3,206.3 497.8,204.4 497.3,202.5 497,200.6 496.7,198.6 496.6,196.7" fill="#fbfcfb" stroke="#111" stroke-width="1.4" stroke-linejoin="round" />
<ellipse cx="511.5" cy="199.5" rx="14.5" ry="22.5" transform="rotate(-12 511.5 199.5)" fill="#fbfcfb" stroke="#111" stroke-width="1.4" />
<ellipse cx="512" cy="199.8" rx="12.2" ry="19.8" transform="rotate(-12 512 199.8)" fill="none" stroke="#111" stroke-width="1.1" />
<ellipse cx="513" cy="200" rx="10" ry="16.5" transform="rotate(-12 513 200)" fill="none" stroke="#1a1a1a" stroke-width="4" />
<ellipse cx="513" cy="200" rx="10" ry="16.5" transform="rotate(-12 513 200)" fill="none" stroke="#fff" stroke-width="1.6" stroke-dasharray="6 4"/>
<ellipse cx="514" cy="200.5" rx="7.5" ry="12.5" transform="rotate(-12 514 200.5)" fill="#fbfcfb" stroke="#111" stroke-width="1.2" />
<line x1="506" y1="205" x2="520" y2="196" stroke="#111" stroke-width="1"/>
<line x1="537" y1="190" x2="547" y2="184" stroke="#111" stroke-width="1"/>
<text x="552.5" y="236.2" textLength="12.8" lengthAdjust="spacingAndGlyphs" class="l" style="font-size:17.5px">19</text>
<line x1="550" y1="228" x2="530.3" y2="217.6" stroke="#111" stroke-width="1"/>
<g transform="translate(265.3 328.4) rotate(-27.7)">
<path d="M238.0,-8.5 L257.0,-8.5 A3.0,8.5 0 0 1 257.0,8.5 L238.0,8.5 A3.0,8.5 0 0 1 238.0,-8.5 Z" fill="#fbfcfb" stroke="#111" stroke-width="1.3"/>
<ellipse cx="238.0" cy="0" rx="3.0" ry="8.5" fill="#fbfcfb" stroke="#111" stroke-width="1.3"/>
<path d="M224.0,-17.5 L239.0,-17.5 A6.0,17.5 0 0 1 239.0,17.5 L224.0,17.5 A6.0,17.5 0 0 1 224.0,-17.5 Z" fill="#fbfcfb" stroke="#111" stroke-width="1.3"/>
<path d="M239,-17.5 A6,17.5 0 0 1 239,17.5" fill="none" stroke="#111" stroke-width="2.6" stroke-dasharray="2.2 1.6"/>
<line x1="225" y1="-16.3" x2="239" y2="-16.3" stroke="#111" stroke-width="1.3" stroke-dasharray="2.5 1.5"/>
<line x1="225" y1="-14.0" x2="239" y2="-14.0" stroke="#111" stroke-width="1.3" stroke-dasharray="2.5 1.5"/>
<line x1="225" y1="-11.7" x2="239" y2="-11.7" stroke="#111" stroke-width="1.3" stroke-dasharray="2.5 1.5"/>
<line x1="225" y1="-9.3" x2="239" y2="-9.3" stroke="#111" stroke-width="1.3" stroke-dasharray="2.5 1.5"/>
<line x1="225" y1="-7.0" x2="239" y2="-7.0" stroke="#111" stroke-width="1.3" stroke-dasharray="2.5 1.5"/>
<line x1="225" y1="-4.7" x2="239" y2="-4.7" stroke="#111" stroke-width="1.3" stroke-dasharray="2.5 1.5"/>
<line x1="225" y1="-2.3" x2="239" y2="-2.3" stroke="#111" stroke-width="1.3" stroke-dasharray="2.5 1.5"/>
<line x1="225" y1="0.0" x2="239" y2="0.0" stroke="#111" stroke-width="1.3" stroke-dasharray="2.5 1.5"/>
<line x1="225" y1="2.3" x2="239" y2="2.3" stroke="#111" stroke-width="1.3" stroke-dasharray="2.5 1.5"/>
<line x1="225" y1="4.7" x2="239" y2="4.7" stroke="#111" stroke-width="1.3" stroke-dasharray="2.5 1.5"/>
<line x1="225" y1="7.0" x2="239" y2="7.0" stroke="#111" stroke-width="1.3" stroke-dasharray="2.5 1.5"/>
<line x1="225" y1="9.3" x2="239" y2="9.3" stroke="#111" stroke-width="1.3" stroke-dasharray="2.5 1.5"/>
<line x1="225" y1="11.7" x2="239" y2="11.7" stroke="#111" stroke-width="1.3" stroke-dasharray="2.5 1.5"/>
<line x1="225" y1="14.0" x2="239" y2="14.0" stroke="#111" stroke-width="1.3" stroke-dasharray="2.5 1.5"/>
<line x1="225" y1="16.3" x2="239" y2="16.3" stroke="#111" stroke-width="1.3" stroke-dasharray="2.5 1.5"/>
<ellipse cx="224" cy="0" rx="6" ry="17.5" fill="#fbfcfb" stroke="#111" stroke-width="2.6" stroke-dasharray="2.6 1.6"/>
<ellipse cx="224" cy="0" rx="4.2" ry="12.6" fill="#fbfcfb" stroke="#111" stroke-width="1.2"/>
<path d="M199.0,-8.0 L225.0,-8.0 A2.5,8.0 0 0 1 225.0,8.0 L199.0,8.0 A2.5,8.0 0 0 1 199.0,-8.0 Z" fill="#fbfcfb" stroke="#111" stroke-width="1.3"/>
<path d="M186.0,-15.0 L200.0,-15.0 A5.0,15.0 0 0 1 200.0,15.0 L186.0,15.0 A5.0,15.0 0 0 1 186.0,-15.0 Z" fill="#fbfcfb" stroke="#111" stroke-width="1.3"/>
<path d="M200,-15 A5,15 0 0 1 200,15" fill="none" stroke="#111" stroke-width="2.6" stroke-dasharray="2.2 1.6"/>
<line x1="187" y1="-13.8" x2="200" y2="-13.8" stroke="#111" stroke-width="1.3" stroke-dasharray="2.5 1.5"/>
<line x1="187" y1="-11.5" x2="200" y2="-11.5" stroke="#111" stroke-width="1.3" stroke-dasharray="2.5 1.5"/>
<line x1="187" y1="-9.2" x2="200" y2="-9.2" stroke="#111" stroke-width="1.3" stroke-dasharray="2.5 1.5"/>
<line x1="187" y1="-6.9" x2="200" y2="-6.9" stroke="#111" stroke-width="1.3" stroke-dasharray="2.5 1.5"/>
<line x1="187" y1="-4.6" x2="200" y2="-4.6" stroke="#111" stroke-width="1.3" stroke-dasharray="2.5 1.5"/>
<line x1="187" y1="-2.3" x2="200" y2="-2.3" stroke="#111" stroke-width="1.3" stroke-dasharray="2.5 1.5"/>
<line x1="187" y1="0.0" x2="200" y2="0.0" stroke="#111" stroke-width="1.3" stroke-dasharray="2.5 1.5"/>
<line x1="187" y1="2.3" x2="200" y2="2.3" stroke="#111" stroke-width="1.3" stroke-dasharray="2.5 1.5"/>
<line x1="187" y1="4.6" x2="200" y2="4.6" stroke="#111" stroke-width="1.3" stroke-dasharray="2.5 1.5"/>
<line x1="187" y1="6.9" x2="200" y2="6.9" stroke="#111" stroke-width="1.3" stroke-dasharray="2.5 1.5"/>
<line x1="187" y1="9.2" x2="200" y2="9.2" stroke="#111" stroke-width="1.3" stroke-dasharray="2.5 1.5"/>
<line x1="187" y1="11.5" x2="200" y2="11.5" stroke="#111" stroke-width="1.3" stroke-dasharray="2.5 1.5"/>
<line x1="187" y1="13.8" x2="200" y2="13.8" stroke="#111" stroke-width="1.3" stroke-dasharray="2.5 1.5"/>
<ellipse cx="186" cy="0" rx="5" ry="15" fill="#fbfcfb" stroke="#111" stroke-width="2.6" stroke-dasharray="2.6 1.6"/>
<ellipse cx="186" cy="0" rx="3.5" ry="10.8" fill="#fbfcfb" stroke="#111" stroke-width="1.2"/>
<path d="M175.0,-11.0 L187.0,-11.0 A3.5,11.0 0 0 1 187.0,11.0 L175.0,11.0 A3.5,11.0 0 0 1 175.0,-11.0 Z" fill="#fbfcfb" stroke="#111" stroke-width="1.3"/>
<ellipse cx="175.0" cy="0" rx="3.5" ry="11.0" fill="#fbfcfb" stroke="#111" stroke-width="1.3"/>
<ellipse cx="180" cy="0" rx="3.5" ry="11" fill="none" stroke="#111" stroke-width="1.1"/>
<path d="M42.0,-9.4 L177.0,-9.4 A3.0,9.4 0 0 1 177.0,9.4 L42.0,9.4 A3.0,9.4 0 0 1 42.0,-9.4 Z" fill="#fbfcfb" stroke="#111" stroke-width="1.3"/>
<path d="M8.0,-10.5 L44.0,-10.5 A3.5,10.5 0 0 1 44.0,10.5 L8.0,10.5 A3.5,10.5 0 0 1 8.0,-10.5 Z" fill="#1c1c1c" stroke="#111" stroke-width="1.3"/>
<line x1="10" y1="-8.8" x2="34" y2="-8.8" stroke="#fff" stroke-width="0.9" stroke-dasharray="1.6 1.8"/>
<line x1="10" y1="-6.6" x2="34" y2="-6.6" stroke="#fff" stroke-width="0.9" stroke-dasharray="1.6 1.8"/>
<line x1="10" y1="-4.4" x2="34" y2="-4.4" stroke="#fff" stroke-width="0.9" stroke-dasharray="1.6 1.8"/>
<line x1="10" y1="-2.2" x2="34" y2="-2.2" stroke="#fff" stroke-width="0.9" stroke-dasharray="1.6 1.8"/>
<line x1="10" y1="0.0" x2="34" y2="0.0" stroke="#fff" stroke-width="0.9" stroke-dasharray="1.6 1.8"/>
<line x1="10" y1="2.2" x2="34" y2="2.2" stroke="#fff" stroke-width="0.9" stroke-dasharray="1.6 1.8"/>
<line x1="10" y1="4.4" x2="34" y2="4.4" stroke="#fff" stroke-width="0.9" stroke-dasharray="1.6 1.8"/>
<line x1="10" y1="6.6" x2="34" y2="6.6" stroke="#fff" stroke-width="0.9" stroke-dasharray="1.6 1.8"/>
<line x1="10" y1="8.8" x2="34" y2="8.8" stroke="#fff" stroke-width="0.9" stroke-dasharray="1.6 1.8"/>
<path d="M36,-10.5 L44,-10.5 L44,10.5 L36,10.5 Z" fill="#fbfcfb" stroke="#111" stroke-width="1.2"/>
<ellipse cx="36" cy="0" rx="3.5" ry="10.5" fill="none" stroke="#111" stroke-width="1.2"/>
<ellipse cx="40" cy="0" rx="3.5" ry="10.5" fill="none" stroke="#111" stroke-width="1.2"/>
<ellipse cx="8" cy="0" rx="3.5" ry="10.5" fill="#fbfcfb" stroke="#111" stroke-width="1.3"/>
<path d="M-1.0,-4.2 L9.0,-4.2 A1.6,4.2 0 0 1 9.0,4.2 L-1.0,4.2 A1.6,4.2 0 0 1 -1.0,-4.2 Z" fill="#fbfcfb" stroke="#111" stroke-width="1.3"/>
<ellipse cx="-1.0" cy="0" rx="1.6" ry="4.2" fill="#fbfcfb" stroke="#111" stroke-width="1.3"/>
</g>
<line x1="496" y1="213" x2="515" y2="204" stroke="#111" stroke-width="1"/>
<text x="348" y="329" textLength="16" lengthAdjust="spacingAndGlyphs" class="l" style="font-size:17.5px">18</text>
<line x1="346.3" y1="319.5" x2="325.5" y2="311.5" stroke="#111" stroke-width="1"/>
<path d="M513.4,273.5 L552.8,253.8 Q566,254 572,260 Q576,268 575.4,275 Q575,283 568.8,287.3 L528,307.8" fill="#fbfcfb" stroke="#111" stroke-width="1.4" stroke-linejoin="round" />
<path d="M565.9,256 Q573.5,262 574.5,272 Q574.5,282 570,287" fill="none" stroke="#111" stroke-width="2.8" stroke-linejoin="round" stroke-dasharray="3 1.5"/>
<polygon points="500.7,287.9 500.8,286.6 500.9,285.4 501.1,284.2 501.4,283.1 501.7,282.1 502.2,281.2 502.6,280.4 503.2,279.7 503.8,279.1 504.5,278.7 505.2,278.4 512.7,275.4 513.5,275.2 514.3,275.1 515.1,275.2 516,275.4 516.8,275.7 517.7,276.2 518.6,276.7 519.5,277.4 520.4,278.2 521.3,279.1 522.1,280.1 523,281.2 523.8,282.4 524.5,283.7 525.2,285 525.9,286.4 526.5,287.8 527,289.3 527.5,290.7 527.9,292.2 528.2,293.7 528.5,295.2 528.7,296.7 528.8,298.1 528.8,299.5 528.7,300.8 528.6,302 528.4,303.2 528.1,304.3 527.8,305.3 527.3,306.2 526.9,307 526.3,307.7 525.7,308.3 525,308.7 524.3,309 516.8,312 516,312.2 515.2,312.3 514.4,312.2 513.5,312 512.7,311.7 511.8,311.2 510.9,310.7 510,310 509.1,309.2 508.2,308.3 507.4,307.3 506.5,306.2 505.7,305 505,303.7 504.3,302.4 503.6,301 503,299.6 502.5,298.1 502,296.7 501.6,295.2 501.3,293.7 501,292.2 500.8,290.7 500.7,289.3" fill="#fbfcfb" stroke="#111" stroke-width="1.4" stroke-linejoin="round" />
<ellipse cx="511" cy="295.2" rx="9" ry="17.8" transform="rotate(-19 511 295.2)" fill="#fbfcfb" stroke="#111" stroke-width="1.4" />
<ellipse cx="518.5" cy="292.2" rx="9" ry="17.8" transform="rotate(-19 518.5 292.2)" fill="none" stroke="#111" stroke-width="2.6" stroke-dasharray="3 1.6"/>
<ellipse cx="515" cy="293.7" rx="9" ry="17.8" transform="rotate(-19 515 293.7)" fill="none" stroke="#111" stroke-width="1.8" />
<ellipse cx="511" cy="295.2" rx="9" ry="17.8" transform="rotate(-19 511 295.2)" fill="#fbfcfb" stroke="#111" stroke-width="1.5" />
<ellipse cx="511.3" cy="295.2" rx="6.8" ry="15" transform="rotate(-19 511.3 295.2)" fill="none" stroke="#111" stroke-width="1.0" />
<line x1="492.9" y1="303.4" x2="520.7" y2="291.7" stroke="#111" stroke-width="1"/>
<text x="581" y="314" textLength="13" lengthAdjust="spacingAndGlyphs" class="l" style="font-size:17.5px">31</text>
<line x1="579" y1="304.9" x2="557.9" y2="293.9" stroke="#111" stroke-width="1"/>
<path d="M449.6,290.3 Q462,283 470.5,283.8 Q484,285 489.7,294.3 Q496,305 497.8,320 Q498,336 493,342.4 Q488,348 481.7,350.5" fill="#fbfcfb" stroke="#111" stroke-width="1.4" stroke-linejoin="round" />
<polygon points="401.4,300.7 403.8,295.9 409.5,292.7 415.9,291.9 422.3,288.7 431.9,286.6 441.6,287.8 448,291.1 459.2,300.7 470.5,307.1 478.5,315.1 480.1,321.6 478.5,328 480.1,339.2 480.1,350.5 476.9,361.7 468.9,369.7 465.7,376.2 459.2,379.4 448,379.4 441.6,374.6 431.9,364.9 422.3,352.1 414.3,336 407.8,318.4 406.2,310.3 403,307.1" fill="#fbfcfb" stroke="#111" stroke-width="1.5" stroke-linejoin="round" />
<path d="M412,305 Q414,296 425,294 Q445,291 460,305 Q474,318 475,340 Q474,360 465,366 Q452,374 438,362 Q424,348 416,330 Q411,316 412,305 Z" fill="none" stroke="#111" stroke-width="1.1" stroke-linejoin="round" />
<ellipse cx="443" cy="333" rx="25" ry="36" transform="rotate(-22 443 333)" fill="#fbfcfb" stroke="#111" stroke-width="1.3" />
<ellipse cx="444" cy="333" rx="21" ry="32" transform="rotate(-22 444 333)" fill="none" stroke="#111" stroke-width="1.1" />
<ellipse cx="445" cy="332" rx="17" ry="27" transform="rotate(-22 445 332)" fill="#fbfcfb" stroke="#111" stroke-width="1.3" />
<path d="M447,307 Q458,312 465,326 Q469,334 467,339 L462,336 Q458,322 449,312 Z" fill="#111" stroke="#111" stroke-width="1" stroke-linejoin="round" />
<path d="M449,312 Q458,322 462,336" fill="none" stroke="#111" stroke-width="1.2" stroke-linejoin="round" />
<ellipse cx="408.2" cy="303.9" rx="3.4" ry="4.6" transform="rotate(-10 408.2 303.9)" fill="#fbfcfb" stroke="#111" stroke-width="1.3" />
<ellipse cx="464.8" cy="316.8" rx="3.8" ry="4.5" transform="rotate(-10 464.8 316.8)" fill="#fbfcfb" stroke="#111" stroke-width="1.3" />
<ellipse cx="450.4" cy="373.4" rx="3.8" ry="4.4" transform="rotate(-10 450.4 373.4)" fill="#fbfcfb" stroke="#111" stroke-width="1.3" />
<ellipse cx="460.5" cy="375.5" rx="2.5" ry="2" transform="rotate(-10 460.5 375.5)" fill="#fbfcfb" stroke="#111" stroke-width="1.1" />
<line x1="395" y1="356.9" x2="448" y2="328" stroke="#111" stroke-width="1"/>
<line x1="491.4" y1="305.5" x2="505" y2="299" stroke="#111" stroke-width="1"/>
<line x1="481.7" y1="353.7" x2="505" y2="342.4" stroke="#111" stroke-width="1"/>
<text x="502.6" y="384.2" textLength="13.2" lengthAdjust="spacingAndGlyphs" class="l" style="font-size:15.8px">30</text>
<line x1="497.5" y1="376.7" x2="478" y2="364.5" stroke="#111" stroke-width="1"/>
<g transform="translate(530 328) rotate(-32)">
<polygon points="-8,-3.2 5,-3.2 5,3.2 -8,3.2" fill="#fbfcfb" stroke="#111" stroke-width="1.3" stroke-linejoin="round" />
<line x1="-5" y1="-3.2" x2="-5" y2="3.2" stroke="#111" stroke-width="1"/>
<line x1="-2" y1="-3.2" x2="-2" y2="3.2" stroke="#111" stroke-width="1"/>
<line x1="1" y1="-3.2" x2="1" y2="3.2" stroke="#111" stroke-width="1"/>
</g>
<polygon points="534.5,321 538,317.5 544,317 547.4,321 546.5,327 542,330 536.5,329.5 534.5,325.5" fill="#fbfcfb" stroke="#111" stroke-width="1.4" stroke-linejoin="round" />
<line x1="538" y1="318" x2="540" y2="329.5" stroke="#111" stroke-width="1.1"/>
<polygon points="506.3,337 509,334.4 514,334.4 516.5,338 515.5,343 510.5,344.6 506.5,342" fill="#111" stroke="#111" stroke-width="1.5" stroke-linejoin="round" />
<ellipse cx="511.4" cy="339.5" rx="1.8" ry="2" transform="rotate(0 511.4 339.5)" fill="#fbfcfb" stroke="#fff" stroke-width="0.8" />
<text x="558.1" y="351.2" textLength="14.6" lengthAdjust="spacingAndGlyphs" class="l" style="font-size:15.5px">22</text>
<line x1="554.5" y1="341.7" x2="535.5" y2="331.5" stroke="#111" stroke-width="1"/>
<text x="537.7" y="365" textLength="12.3" lengthAdjust="spacingAndGlyphs" class="l" style="font-size:15.5px">21</text>
<line x1="537" y1="355.5" x2="514.3" y2="343.9" stroke="#111" stroke-width="1"/>
<ellipse cx="397.5" cy="357" rx="11.5" ry="16.5" transform="rotate(-28 397.5 357)" fill="#fbfcfb" stroke="#111" stroke-width="1.8" />
<ellipse cx="397.8" cy="357" rx="8" ry="12.5" transform="rotate(-28 397.8 357)" fill="#fbfcfb" stroke="#111" stroke-width="1.2" />
<line x1="389" y1="363" x2="407" y2="350" stroke="#111" stroke-width="1"/>
<text x="431.7" y="392.5" textLength="14.5" lengthAdjust="spacingAndGlyphs" class="l" style="font-size:17.0px">29</text>
<line x1="430.8" y1="383.7" x2="408.6" y2="372" stroke="#111" stroke-width="1"/>
<polygon points="351,371.7 351.1,370.2 351.3,368.8 351.6,367.4 352,366 352.6,364.8 353.2,363.6 354,362.5 354.8,361.5 355.7,360.6 356.7,359.8 357.8,359.2 362.3,356.8 363.5,356.2 364.7,355.8 365.9,355.6 367.2,355.4 368.5,355.4 369.9,355.6 371.2,355.8 372.6,356.2 373.9,356.7 375.2,357.4 376.5,358.2 377.7,359 378.9,360 380.1,361.1 381.1,362.3 382.1,363.6 383,364.9 383.8,366.3 384.5,367.7 385.1,369.2 385.6,370.8 386,372.3 386.3,373.8 386.4,375.4 386.5,376.9 386.4,378.4 386.2,379.8 385.9,381.2 385.5,382.6 384.9,383.8 384.3,385 383.5,386.1 382.7,387.1 381.8,388 380.8,388.8 379.7,389.4 375.2,391.8 374,392.4 372.8,392.8 371.6,393 370.3,393.2 369,393.2 367.6,393 366.3,392.8 364.9,392.4 363.6,391.9 362.3,391.2 361,390.4 359.8,389.6 358.6,388.6 357.4,387.5 356.4,386.3 355.4,385 354.5,383.7 353.7,382.3 353,380.9 352.4,379.4 351.9,377.8 351.5,376.3 351.2,374.8 351.1,373.2" fill="#fbfcfb" stroke="#111" stroke-width="1.5" stroke-linejoin="round" />
<ellipse cx="366.5" cy="375.5" rx="14.5" ry="18.5" transform="rotate(-28 366.5 375.5)" fill="#fbfcfb" stroke="#111" stroke-width="1.5" />
<ellipse cx="366.5" cy="375.5" rx="14" ry="18" transform="rotate(-28 366.5 375.5)" fill="none" stroke="#111" stroke-width="2.2" stroke-dasharray="4 2"/>
<ellipse cx="367" cy="375.5" rx="10.5" ry="14" transform="rotate(-28 367 375.5)" fill="#fbfcfb" stroke="#111" stroke-width="1.4" />
<ellipse cx="367.3" cy="375.5" rx="8.5" ry="12" transform="rotate(-28 367.3 375.5)" fill="none" stroke="#111" stroke-width="1.0" />
<line x1="359.5" y1="381.5" x2="375.5" y2="370.5" stroke="#111" stroke-width="1"/>
<polygon points="316,389.7 316.1,388.2 316.3,386.8 316.6,385.4 317,384 317.6,382.8 318.2,381.6 319,380.5 319.8,379.5 320.7,378.6 321.7,377.8 322.8,377.2 327.3,374.8 328.5,374.2 329.7,373.8 330.9,373.6 332.2,373.4 333.5,373.4 334.9,373.6 336.2,373.8 337.6,374.2 338.9,374.7 340.2,375.4 341.5,376.2 342.7,377 343.9,378 345.1,379.1 346.1,380.3 347.1,381.6 348,382.9 348.8,384.3 349.5,385.7 350.1,387.2 350.6,388.8 351,390.3 351.3,391.8 351.4,393.4 351.5,394.9 351.4,396.4 351.2,397.8 350.9,399.2 350.5,400.6 349.9,401.8 349.3,403 348.5,404.1 347.7,405.1 346.8,406 345.8,406.8 344.7,407.4 340.2,409.8 339,410.4 337.8,410.8 336.6,411 335.3,411.2 334,411.2 332.6,411 331.3,410.8 329.9,410.4 328.6,409.9 327.3,409.2 326,408.4 324.8,407.6 323.6,406.6 322.4,405.5 321.4,404.3 320.4,403 319.5,401.7 318.7,400.3 318,398.9 317.4,397.4 316.9,395.8 316.5,394.3 316.2,392.8 316.1,391.2" fill="#fbfcfb" stroke="#111" stroke-width="1.5" stroke-linejoin="round" />
<ellipse cx="331.5" cy="393.5" rx="14.5" ry="18.5" transform="rotate(-28 331.5 393.5)" fill="#fbfcfb" stroke="#111" stroke-width="1.5" />
<ellipse cx="331.5" cy="393.5" rx="14" ry="18" transform="rotate(-28 331.5 393.5)" fill="none" stroke="#111" stroke-width="2.2" stroke-dasharray="4 2"/>
<ellipse cx="332" cy="393.5" rx="10.5" ry="14" transform="rotate(-28 332 393.5)" fill="#fbfcfb" stroke="#111" stroke-width="1.4" />
<ellipse cx="332.3" cy="393.5" rx="8.5" ry="12" transform="rotate(-28 332.3 393.5)" fill="none" stroke="#111" stroke-width="1.0" />
<line x1="324.5" y1="399.5" x2="340.5" y2="388.5" stroke="#111" stroke-width="1"/>
<text x="409.8" y="402.4" textLength="15.2" lengthAdjust="spacingAndGlyphs" class="l" style="font-size:17.5px">28</text>
<line x1="409.8" y1="393" x2="384" y2="382.6" stroke="#111" stroke-width="1"/>
<text x="363" y="432.8" textLength="15" lengthAdjust="spacingAndGlyphs" class="l" style="font-size:17.5px">28</text>
<line x1="362" y1="423.4" x2="338.5" y2="409.4" stroke="#111" stroke-width="1"/>
<line x1="345" y1="386" x2="352" y2="382" stroke="#111" stroke-width="1"/>
<line x1="380" y1="367" x2="386" y2="363" stroke="#111" stroke-width="1"/>
<path d="M43.1,276.8 L90.4,302.4 L83.9,312.3 L39.9,290 Q35,287 35.9,282 Q37.5,276.5 43.1,276.8 Z" fill="#fbfcfb" stroke="#111" stroke-width="1.3" stroke-linejoin="round" />
<path d="M53.5,283.5 Q57.5,288 55.5,294.5" fill="none" stroke="#111" stroke-width="2.6" stroke-linejoin="round" />
<polyline points="41,278.5 45,279.5" fill="none" stroke="#111" stroke-width="2.2" stroke-linejoin="round" />
<polygon points="83.9,308.4 87.8,303.1 94.4,301.1 99.6,302.4 105.5,305.7 108.2,308.4 108.2,317.6 106.2,321.5 106.9,328.1 107.5,336 106.2,342.5 101,347.1 94.4,343.8 89.1,339.9 89.8,332 91.1,322.8 87.8,320.2 84.5,316.2 83.2,312.3" fill="#fbfcfb" stroke="#111" stroke-width="1.4" stroke-linejoin="round" />
<polyline points="84.5,308.4 98.3,308.4 105,305.7" fill="none" stroke="#111" stroke-width="1.1" stroke-linejoin="round" />
<line x1="95.7" y1="308.4" x2="95.7" y2="342" stroke="#111" stroke-width="1.1"/>
<line x1="91.8" y1="324" x2="91.8" y2="339" stroke="#111" stroke-width="1.3"/>
<ellipse cx="101.8" cy="340.5" rx="4" ry="4" transform="rotate(0 101.8 340.5)" fill="#fbfcfb" stroke="#111" stroke-width="2" />
<ellipse cx="101.8" cy="340.5" rx="1.6" ry="1.6" transform="rotate(0 101.8 340.5)" fill="#fbfcfb" stroke="#111" stroke-width="1" />
<line x1="46.4" y1="292.6" x2="46.4" y2="328" stroke="#111" stroke-width="1.1"/>
<polygon points="44.5,328 49.7,328 49.7,343.8 44.5,343.8" fill="#fbfcfb" stroke="#111" stroke-width="1.6" stroke-linejoin="round" />
<text x="101" y="281.4" textLength="13.7" lengthAdjust="spacingAndGlyphs" class="l" style="font-size:16.8px">12</text>
<line x1="97" y1="282" x2="79.3" y2="293.2" stroke="#111" stroke-width="1"/>
<text x="73.4" y="354.3" textLength="13.1" lengthAdjust="spacingAndGlyphs" class="l" style="font-size:17.5px">13</text>
<line x1="69.4" y1="347.1" x2="51" y2="337.3" stroke="#111" stroke-width="1"/>
<path d="M116.7,345.3 L134.2,353.4 L124.7,356.3 L114.5,350.4 Q113.5,347 116.7,345.3 Z" fill="#fbfcfb" stroke="#111" stroke-width="1.2" stroke-linejoin="round" />
<polygon points="126.5,352.5 143.7,358.5 144.4,365 141,369.5 124,358.5" fill="#fbfcfb" stroke="#111" stroke-width="1.4" stroke-linejoin="round" />
<line x1="140.5" y1="358" x2="140.5" y2="368.5" stroke="#111" stroke-width="1.1"/>
<line x1="105" y1="342.5" x2="114.5" y2="348" stroke="#111" stroke-width="1"/>
<line x1="144.4" y1="365" x2="153" y2="368.5" stroke="#111" stroke-width="1"/>
<text x="160.5" y="344.6" textLength="12.4" lengthAdjust="spacingAndGlyphs" class="l" style="font-size:15.5px">14</text>
<line x1="157.6" y1="343.1" x2="137.8" y2="354.1" stroke="#111" stroke-width="1"/>
<path d="M160.5,361.4 Q168,363.5 173.6,364.3 Q180,360 183.8,360.7 Q191,362 194.5,370 Q197,380 192.6,387 Q189,391 183.8,392.8" fill="#fbfcfb" stroke="#111" stroke-width="1.3" stroke-linejoin="round" />
<polygon points="147.3,381.5 147.4,379.9 147.5,378.4 147.8,377 148.1,375.6 148.6,374.2 149.1,373 149.7,371.9 150.5,370.8 151.3,369.9 152.1,369.1 153.1,368.4 154.1,367.8 155.1,367.4 162.1,364.9 163.2,364.6 164.4,364.5 165.5,364.5 166.7,364.6 167.9,364.9 169.1,365.3 170.3,365.9 171.4,366.6 172.6,367.4 173.7,368.3 174.8,369.3 175.8,370.5 176.7,371.7 177.6,373 178.4,374.4 179.2,375.9 179.8,377.4 180.4,379 180.8,380.6 181.2,382.2 181.5,383.8 181.6,385.4 181.7,387 181.6,388.6 181.5,390.1 181.2,391.5 180.9,392.9 180.4,394.3 179.9,395.5 179.3,396.6 178.5,397.7 177.7,398.6 176.9,399.4 175.9,400.1 174.9,400.7 173.9,401.1 166.9,403.6 165.8,403.9 164.6,404 163.5,404 162.3,403.9 161.1,403.6 159.9,403.2 158.7,402.6 157.6,401.9 156.4,401.1 155.3,400.2 154.2,399.2 153.2,398 152.3,396.8 151.4,395.5 150.6,394.1 149.8,392.6 149.2,391.1 148.6,389.5 148.2,387.9 147.8,386.3 147.5,384.7 147.4,383.1" fill="#fbfcfb" stroke="#111" stroke-width="1.4" stroke-linejoin="round" />
<ellipse cx="161" cy="385.5" rx="13" ry="19" transform="rotate(-18 161 385.5)" fill="#fbfcfb" stroke="#111" stroke-width="1.4" />
<ellipse cx="163.5" cy="384.7" rx="12.5" ry="18.5" transform="rotate(-18 163.5 384.7)" fill="none" stroke="#222" stroke-width="2.4" />
<ellipse cx="165.5" cy="384" rx="12.5" ry="18.5" transform="rotate(-18 165.5 384)" fill="none" stroke="#222" stroke-width="1.5" />
<ellipse cx="159.4" cy="386.3" rx="11.5" ry="17.5" transform="rotate(-18 159.4 386.3)" fill="#fbfcfb" stroke="#111" stroke-width="1.4" />
<ellipse cx="159.6" cy="387.5" rx="9.6" ry="14" transform="rotate(-18 159.6 387.5)" fill="#222" stroke="#111" stroke-width="1.2" />
<ellipse cx="155.5" cy="383" rx="1.4" ry="1.4" transform="rotate(0 155.5 383)" fill="#fbfcfb" stroke="#fff" stroke-width="0.5" />
<ellipse cx="159" cy="381.5" rx="1.4" ry="1.4" transform="rotate(0 159 381.5)" fill="#fbfcfb" stroke="#fff" stroke-width="0.5" />
<ellipse cx="161.5" cy="386" rx="1.4" ry="1.4" transform="rotate(0 161.5 386)" fill="#fbfcfb" stroke="#fff" stroke-width="0.5" />
<ellipse cx="157" cy="388" rx="1.4" ry="1.4" transform="rotate(0 157 388)" fill="#fbfcfb" stroke="#fff" stroke-width="0.5" />
<ellipse cx="160" cy="392" rx="1.4" ry="1.4" transform="rotate(0 160 392)" fill="#fbfcfb" stroke="#fff" stroke-width="0.5" />
<ellipse cx="156" cy="393.5" rx="1.4" ry="1.4" transform="rotate(0 156 393.5)" fill="#fbfcfb" stroke="#fff" stroke-width="0.5" />
<ellipse cx="162.5" cy="390.5" rx="1.4" ry="1.4" transform="rotate(0 162.5 390.5)" fill="#fbfcfb" stroke="#fff" stroke-width="0.5" />
<line x1="195.5" y1="376" x2="201" y2="373" stroke="#111" stroke-width="1"/>
<text x="208" y="410.4" textLength="15.4" lengthAdjust="spacingAndGlyphs" class="l" style="font-size:17.5px">15</text>
<line x1="206" y1="401.5" x2="188" y2="391" stroke="#111" stroke-width="1"/>
<ellipse cx="210.8" cy="362.3" rx="9" ry="13.5" transform="rotate(-28 210.8 362.3)" fill="#fbfcfb" stroke="#111" stroke-width="2.6" />
<ellipse cx="210.8" cy="362.3" rx="6.5" ry="10.5" transform="rotate(-28 210.8 362.3)" fill="#fbfcfb" stroke="#111" stroke-width="1.1" />
<ellipse cx="212" cy="364" rx="8.5" ry="13" transform="rotate(-28 212 364)" fill="none" stroke="#111" stroke-width="2.6" stroke-dasharray="3 2"/>
<line x1="204" y1="369" x2="219" y2="356" stroke="#111" stroke-width="1"/>
<line x1="221" y1="358" x2="226" y2="356" stroke="#111" stroke-width="1"/>
<text x="241" y="389.4" textLength="16.3" lengthAdjust="spacingAndGlyphs" class="l" style="font-size:17.5px">16</text>
<line x1="241.7" y1="382.2" x2="220.1" y2="371" stroke="#111" stroke-width="1"/>
<polygon points="221.6,341.2 221.7,339.4 221.8,337.7 222.1,336 222.4,334.4 222.9,332.9 223.5,331.4 224.2,330.1 225,328.9 225.9,327.9 226.9,326.9 227.9,326.2 229,325.5 237.5,321.5 238.7,321.1 239.9,320.8 241.2,320.6 242.5,320.6 243.8,320.8 245.2,321.1 246.5,321.6 247.8,322.3 249.2,323.1 250.4,324 251.7,325.1 252.9,326.3 254,327.7 255.1,329.1 256.1,330.6 257.1,332.3 257.9,334 258.6,335.7 259.3,337.5 259.8,339.4 260.3,341.2 260.6,343.1 260.8,344.9 260.9,346.8 260.8,348.6 260.7,350.3 260.4,352 260.1,353.6 259.6,355.1 259,356.6 258.3,357.9 257.5,359.1 256.6,360.1 255.6,361.1 254.6,361.8 253.5,362.5 245,366.5 243.8,366.9 242.6,367.2 241.3,367.4 240,367.4 238.7,367.2 237.3,366.9 236,366.4 234.7,365.7 233.3,364.9 232.1,364 230.8,362.9 229.6,361.7 228.5,360.3 227.4,358.9 226.4,357.4 225.4,355.7 224.6,354 223.9,352.3 223.2,350.5 222.7,348.6 222.2,346.8 221.9,344.9 221.7,343.1" fill="#fbfcfb" stroke="#111" stroke-width="1.4" stroke-linejoin="round" />
<ellipse cx="237" cy="346" rx="14.5" ry="22" transform="rotate(-18 237 346)" fill="#fbfcfb" stroke="#111" stroke-width="1.4" />
<ellipse cx="237.5" cy="346.2" rx="12.2" ry="19.3" transform="rotate(-18 237.5 346.2)" fill="none" stroke="#111" stroke-width="1.1" />
<ellipse cx="238.3" cy="346.5" rx="10.2" ry="16.3" transform="rotate(-18 238.3 346.5)" fill="none" stroke="#1a1a1a" stroke-width="4" />
<ellipse cx="238.3" cy="346.5" rx="10.2" ry="16.3" transform="rotate(-18 238.3 346.5)" fill="none" stroke="#fff" stroke-width="1.6" stroke-dasharray="6 4"/>
<ellipse cx="239" cy="346.8" rx="7.6" ry="12.5" transform="rotate(-18 239 346.8)" fill="#fbfcfb" stroke="#111" stroke-width="1.2" />
<line x1="233" y1="352" x2="246" y2="341" stroke="#111" stroke-width="1"/>
<line x1="236" y1="340" x2="244" y2="352" stroke="#111" stroke-width="1"/>
<text x="277" y="380" textLength="13" lengthAdjust="spacingAndGlyphs" class="l" style="font-size:17.5px">17</text>
<line x1="254" y1="361.7" x2="275" y2="372.2" stroke="#111" stroke-width="1"/>
<g transform="translate(166.6 483.4) rotate(-28.4)">
<path d="M86,-15.5 L160,-15.5 L161,15.5 L86,15.5 Z" fill="#fbfcfb" stroke="#111" stroke-width="1.4"/>
<path d="M160,-15.5 Q164,0 161,15.5" fill="none" stroke="#111" stroke-width="1.4"/>
<line x1="96" y1="-11" x2="150" y2="-11" stroke="#111" stroke-width="2.2" stroke-dasharray="2.2 1.2"/>
<line x1="105" y1="-6.5" x2="140" y2="-6.5" stroke="#111" stroke-width="2.4" stroke-dasharray="2.2 1.2"/>
<line x1="100" y1="-2" x2="125" y2="-2" stroke="#111" stroke-width="1.2" stroke-dasharray="2.2 1.2"/>
<line x1="110" y1="6" x2="158" y2="6" stroke="#111" stroke-width="1.2" stroke-dasharray="2.2 1.2"/>
<line x1="100" y1="10" x2="158" y2="10" stroke="#111" stroke-width="2.2" stroke-dasharray="2.2 1.2"/>
<line x1="108" y1="13" x2="150" y2="13" stroke="#111" stroke-width="1.4" stroke-dasharray="2.2 1.2"/>
<rect x="104" y="-8" width="40" height="5" fill="none" stroke="#111" stroke-width="1"/>
<rect x="112" y="4" width="46" height="8" fill="none" stroke="#111" stroke-width="1"/>
<rect x="140" y="-13" width="6" height="3" fill="#111"/>
<path d="M74,-17 L86,-17 A6,17 0 0 1 86,17 L74,17 Z" fill="#fbfcfb" stroke="#111" stroke-width="1.4"/>
<ellipse cx="86" cy="0" rx="6" ry="17" fill="none" stroke="#111" stroke-width="1.8" stroke-dasharray="2.5 1.5"/>
<ellipse cx="74" cy="0" rx="6" ry="17" fill="#fbfcfb" stroke="#111" stroke-width="1.4"/>
<path d="M14,-13.5 L74,-13.5 L74,13.5 L14,13.5 Z" fill="#1e1e1e" stroke="#111" stroke-width="1.4"/>
<line x1="17" y1="-12.0" x2="72" y2="-12.0" stroke="#fff" stroke-width="0.9" stroke-dasharray="1.6 1.8"/>
<line x1="17" y1="-9.6" x2="72" y2="-9.6" stroke="#fff" stroke-width="0.9" stroke-dasharray="1.6 1.8"/>
<line x1="17" y1="-7.2" x2="72" y2="-7.2" stroke="#fff" stroke-width="0.9" stroke-dasharray="1.6 1.8"/>
<line x1="17" y1="-4.8" x2="72" y2="-4.8" stroke="#fff" stroke-width="0.9" stroke-dasharray="1.6 1.8"/>
<line x1="17" y1="-2.4" x2="72" y2="-2.4" stroke="#fff" stroke-width="0.9" stroke-dasharray="1.6 1.8"/>
<line x1="17" y1="0.0" x2="72" y2="0.0" stroke="#fff" stroke-width="0.9" stroke-dasharray="1.6 1.8"/>
<line x1="17" y1="2.4" x2="72" y2="2.4" stroke="#fff" stroke-width="0.9" stroke-dasharray="1.6 1.8"/>
<line x1="17" y1="4.8" x2="72" y2="4.8" stroke="#fff" stroke-width="0.9" stroke-dasharray="1.6 1.8"/>
<line x1="17" y1="7.2" x2="72" y2="7.2" stroke="#fff" stroke-width="0.9" stroke-dasharray="1.6 1.8"/>
<line x1="17" y1="9.6" x2="72" y2="9.6" stroke="#fff" stroke-width="0.9" stroke-dasharray="1.6 1.8"/>
<line x1="17" y1="12.0" x2="72" y2="12.0" stroke="#fff" stroke-width="0.9" stroke-dasharray="1.6 1.8"/>
<ellipse cx="74" cy="0" rx="6" ry="17" fill="none" stroke="#111" stroke-width="1.3"/>
<path d="M0,-11 L14,-11 L14,11 L0,11 Z" fill="#fbfcfb" stroke="#111" stroke-width="1.3"/>
<ellipse cx="0" cy="0" rx="4.5" ry="11" fill="#fbfcfb" stroke="#111" stroke-width="1.3"/>
<line x1="-3" y1="4" x2="4" y2="-3" stroke="#111" stroke-width="1"/>
</g>
<text x="283.3" y="470.5" textLength="15.2" lengthAdjust="spacingAndGlyphs" class="l" style="font-size:15.3px">27</text>
<line x1="277" y1="460" x2="259.5" y2="450" stroke="#111" stroke-width="1"/>
<line x1="316" y1="395" x2="322" y2="391" stroke="#111" stroke-width="1"/>
<polygon points="120.4,495.2 120.5,493.3 120.7,491.5 121,489.7 121.5,488.1 122,486.5 122.7,485 123.5,483.6 124.3,482.4 125.3,481.3 126.4,480.3 127.5,479.5 128.7,478.9 137.2,474.9 138.5,474.4 139.8,474.1 141.2,474 142.5,474 144,474.2 145.4,474.6 146.8,475.1 148.2,475.8 149.6,476.6 150.9,477.6 152.2,478.8 153.5,480.1 154.7,481.5 155.8,483 156.8,484.6 157.8,486.3 158.6,488.1 159.4,490 160,491.9 160.6,493.8 161,495.8 161.3,497.7 161.4,499.7 161.5,501.6 161.4,503.5 161.2,505.3 160.9,507.1 160.4,508.7 159.9,510.3 159.2,511.8 158.4,513.2 157.6,514.4 156.6,515.5 155.5,516.5 154.4,517.3 153.2,517.9 144.7,521.9 143.4,522.4 142.1,522.7 140.7,522.8 139.4,522.8 137.9,522.6 136.5,522.2 135.1,521.7 133.7,521 132.3,520.2 131,519.2 129.7,518 128.4,516.7 127.2,515.3 126.1,513.8 125.1,512.2 124.1,510.5 123.3,508.7 122.5,506.8 121.9,504.9 121.3,503 120.9,501 120.6,499.1 120.5,497.1" fill="#fbfcfb" stroke="#111" stroke-width="1.4" stroke-linejoin="round" />
<ellipse cx="136.7" cy="500.4" rx="15.5" ry="23" transform="rotate(-17 136.7 500.4)" fill="#fbfcfb" stroke="#111" stroke-width="1.4" />
<ellipse cx="137.2" cy="500.6" rx="13" ry="20" transform="rotate(-17 137.2 500.6)" fill="none" stroke="#111" stroke-width="1.1" />
<ellipse cx="138" cy="500.8" rx="10.8" ry="17" transform="rotate(-17 138 500.8)" fill="none" stroke="#1a1a1a" stroke-width="4" />
<ellipse cx="138" cy="500.8" rx="10.8" ry="17" transform="rotate(-17 138 500.8)" fill="none" stroke="#fff" stroke-width="1.6" stroke-dasharray="6 4"/>
<ellipse cx="138.6" cy="501" rx="8" ry="13" transform="rotate(-17 138.6 501)" fill="#fbfcfb" stroke="#111" stroke-width="1.2" />
<line x1="131" y1="507" x2="145" y2="497" stroke="#111" stroke-width="1"/>
<line x1="160" y1="494" x2="165" y2="491" stroke="#111" stroke-width="1"/>
<text x="178.6" y="538.8" textLength="14.4" lengthAdjust="spacingAndGlyphs" class="l" style="font-size:14.5px">26</text>
<line x1="176.6" y1="530.7" x2="158.2" y2="519.4" stroke="#111" stroke-width="1"/>
<ellipse cx="106.7" cy="521.1" rx="12.5" ry="19.5" transform="rotate(-21 106.7 521.1)" fill="#fbfcfb" stroke="#111" stroke-width="1.8" />
<ellipse cx="107.2" cy="521.3" rx="9" ry="15.5" transform="rotate(-21 107.2 521.3)" fill="#fbfcfb" stroke="#111" stroke-width="1.2" />
<path d="M97,509 Q99,505 103,505" fill="none" stroke="#111" stroke-width="2.5"/>
<line x1="98" y1="527" x2="116" y2="515" stroke="#111" stroke-width="1"/>
<line x1="120" y1="513" x2="126" y2="510" stroke="#111" stroke-width="1"/>
<text x="145.6" y="549.7" textLength="14.3" lengthAdjust="spacingAndGlyphs" class="l" style="font-size:14.5px">25</text>
<line x1="144" y1="542" x2="121" y2="532" stroke="#111" stroke-width="1"/>
<ellipse cx="79.1" cy="535.4" rx="16.5" ry="22.5" transform="rotate(-18 79.1 535.4)" fill="#fbfcfb" stroke="#111" stroke-width="1.5" />
<ellipse cx="78.9" cy="535.6" rx="11" ry="15.5" transform="rotate(-18 78.9 535.6)" fill="#fbfcfb" stroke="#111" stroke-width="1.3" />
<ellipse cx="78.8" cy="535.5" rx="9.8" ry="14" transform="rotate(-18 78.8 535.5)" fill="none" stroke="#111" stroke-width="0.9" />
<line x1="69" y1="542" x2="88" y2="530" stroke="#111" stroke-width="1"/>
<line x1="94" y1="529" x2="99" y2="526" stroke="#111" stroke-width="1"/>
<text x="120" y="568.1" textLength="14.3" lengthAdjust="spacingAndGlyphs" class="l" style="font-size:17.0px">24</text>
<line x1="118" y1="558.5" x2="95" y2="547" stroke="#111" stroke-width="1"/>
<ellipse cx="49" cy="552.8" rx="12.5" ry="19.5" transform="rotate(-21 49 552.8)" fill="#fbfcfb" stroke="#111" stroke-width="2" />
<ellipse cx="49.3" cy="553" rx="9.5" ry="16" transform="rotate(-21 49.3 553)" fill="#fbfcfb" stroke="#111" stroke-width="1.1" />
<ellipse cx="49" cy="552.8" rx="12.5" ry="19.5" transform="rotate(-21 49 552.8)" fill="none" stroke="#111" stroke-width="3.2" stroke-dasharray="2.2 2.2" stroke-dashoffset="0" pathLength="100" style="stroke-dasharray:0 45 2 2 2 2 2 2 2 2 2 2 2 2 2 2 100"/>
<line x1="40" y1="559" x2="58" y2="547" stroke="#111" stroke-width="1"/>
<line x1="62" y1="545" x2="66" y2="543" stroke="#111" stroke-width="1"/>
<text x="84.3" y="581" textLength="14.3" lengthAdjust="spacingAndGlyphs" class="l" style="font-size:14.5px">23</text>
<line x1="82.5" y1="574" x2="60" y2="566" stroke="#111" stroke-width="1"/>
<ellipse cx="227" cy="497" rx="3.6" ry="3.6" transform="rotate(0 227 497)" fill="#fbfcfb" stroke="#111" stroke-width="1.3" />
<line x1="230.6" y1="497" x2="254" y2="497" stroke="#111" stroke-width="1"/>
<text x="257" y="502" textLength="16" lengthAdjust="spacingAndGlyphs" class="l" style="font-size:15.9px">32</text>
<line x1="227" y1="500.6" x2="227" y2="508" stroke="#111" stroke-width="1"/>
<polygon points="224,508 230,508 230.5,522.5 224.5,522.5" fill="#111" stroke="#111" stroke-width="1" stroke-linejoin="round" />
<line x1="224.5" y1="511" x2="230" y2="510" stroke="#fff" stroke-width="0.7"/>
<line x1="224.5" y1="514" x2="230" y2="513" stroke="#fff" stroke-width="0.7"/>
<line x1="224.5" y1="517" x2="230" y2="516" stroke="#fff" stroke-width="0.7"/>
<line x1="224.5" y1="520" x2="230" y2="519" stroke="#fff" stroke-width="0.7"/>
<line x1="230.6" y1="515" x2="254" y2="515" stroke="#111" stroke-width="1"/>
<text x="255.5" y="519.5" textLength="16" lengthAdjust="spacingAndGlyphs" class="l" style="font-size:15.9px">33</text>
<line x1="227" y1="522.5" x2="227" y2="529" stroke="#111" stroke-width="1"/>
<path d="M168.4,565.4 Q174,561.5 180.7,561.3 L197,560.3 L209.3,558.2 L224.6,561.3 L227.7,592 L225.6,614.5 L224.6,622 Q221,627 216,626.5 Q212.5,623 214.5,618 L215.4,608.3 Q213,596 203.1,583.8 Q196,575 190.9,573.6 Q183,571 176.6,570.5 Q173,576 168.5,574 Q165.5,570 168.4,565.4 Z" fill="#fbfcfb" stroke="#111" stroke-width="1.4" stroke-linejoin="round" />
<line x1="176.6" y1="570.5" x2="172" y2="566" stroke="#111" stroke-width="1.1"/>
<line x1="218.5" y1="580" x2="219.5" y2="616" stroke="#111" stroke-width="1.3"/>
<line x1="222" y1="578" x2="223" y2="613" stroke="#111" stroke-width="1.1"/>
<ellipse cx="219" cy="621" rx="2.2" ry="2.4" transform="rotate(0 219 621)" fill="#fbfcfb" stroke="#111" stroke-width="1.1" />
<path d="M210.3,540.9 Q211,534 213.4,532.7 Q216,530 218.5,530.2 Q222,531 222.6,532.7 L223.6,540.9 L236.9,544 L238.9,546 L238.9,557.2 L231.7,561.3 L223.6,565.4 L211.3,563.4 Q209,560 209.3,557.2 L209.3,547 Z" fill="#fbfcfb" stroke="#111" stroke-width="1.4" stroke-linejoin="round" />
<ellipse cx="217" cy="556" rx="5" ry="6" transform="rotate(-10 217 556)" fill="#fbfcfb" stroke="#111" stroke-width="1.4" />
<polygon points="225,525.5 236.5,525.5 236.5,544 225,544" fill="#fbfcfb" stroke="#111" stroke-width="1.3" stroke-linejoin="round" />
<line x1="225" y1="529" x2="236.5" y2="529" stroke="#111" stroke-width="1"/>
<line x1="230" y1="527" x2="230" y2="543" stroke="#111" stroke-width="1"/>
<line x1="223.6" y1="541" x2="223.6" y2="548" stroke="#111" stroke-width="1.2"/>
<line x1="226" y1="565" x2="227.5" y2="590" stroke="#111" stroke-width="2.2"/>
<polyline points="213,541 218,539.5" fill="none" stroke="#111" stroke-width="2" stroke-linejoin="round" />
<text x="250.2" y="607.6" textLength="14.3" lengthAdjust="spacingAndGlyphs" class="l" style="font-size:14.5px">38</text>
<line x1="249" y1="599" x2="227.7" y2="590" stroke="#111" stroke-width="1"/>
<line x1="238" y1="546" x2="290.5" y2="515" stroke="#111" stroke-width="1"/>
<ellipse cx="297.8" cy="510.2" rx="6.5" ry="8.8" transform="rotate(-45 297.8 510.2)" fill="#fbfcfb" stroke="#111" stroke-width="1.8" />
<ellipse cx="298" cy="510.3" rx="4" ry="6" transform="rotate(-45 298 510.3)" fill="#fbfcfb" stroke="#111" stroke-width="1.1" />
<line x1="304" y1="506" x2="311" y2="501.5" stroke="#111" stroke-width="1"/>
<text x="330.7" y="534.5" textLength="12.3" lengthAdjust="spacingAndGlyphs" class="l" style="font-size:17.4px">10</text>
<line x1="328.8" y1="527.8" x2="305.1" y2="515.5" stroke="#111" stroke-width="1"/>
<g transform="translate(312.5 502.5) rotate(-28.4)">
<path d="M5,-7 L77,-7 L77,7 L5,7 Z" fill="#fbfcfb" stroke="#111" stroke-width="1.3"/>
<path d="M5,-7 L0,-4.5 Q-1.5,0 0,4.5 L5,7" fill="#fbfcfb" stroke="#111" stroke-width="1.3"/>
<path d="M5,-7 Q7,0 5,7" fill="none" stroke="#111" stroke-width="1.1"/>
<path d="M31,-7.4 L37,-7.4 L37,7.4 L31,7.4 Z" fill="#fbfcfb" stroke="#111" stroke-width="1.2"/>
<path d="M55,-7.4 L61,-7.4 L61,7.4 L55,7.4 Z" fill="#fbfcfb" stroke="#111" stroke-width="1.2"/>
<path d="M76,-8.5 L88,-8.5 L88,8.5 L76,8.5 Z" fill="#fbfcfb" stroke="#111" stroke-width="1.3"/>
<ellipse cx="88" cy="0" rx="4" ry="8.8" fill="#fbfcfb" stroke="#111" stroke-width="2.4" stroke-dasharray="2.5 1.5"/>
<line x1="79" y1="-8.5" x2="79" y2="8.5" stroke="#111" stroke-width="1.8"/>
<line x1="82.5" y1="-8.5" x2="82.5" y2="8.5" stroke="#111" stroke-width="1.2"/>
</g>
<text x="378.2" y="505" textLength="13.3" lengthAdjust="spacingAndGlyphs" class="l" style="font-size:17.1px">34</text>
<line x1="376.3" y1="498.4" x2="351.6" y2="488" stroke="#111" stroke-width="1"/>
<line x1="240" y1="545" x2="262.8" y2="559" stroke="#111" stroke-width="1"/>
<path d="M266,557 L283,560.5 Q288,563 286.5,568 Q284,572 279,571 L264.5,568 Q260.5,566 261.5,561 Q263,557 266,557 Z" fill="#fbfcfb" stroke="#111" stroke-width="1.3" stroke-linejoin="round" />
<path d="M277,560 Q273,565 276,570.5" fill="none" stroke="#111" stroke-width="1.1" stroke-linejoin="round" />
<path d="M292.6,550.4 L322.3,566.2 L317,574 L287.3,561.8 Z" fill="#fbfcfb" stroke="#111" stroke-width="1.3" stroke-linejoin="round" />
<path d="M279.5,561 Q271,559 269.6,553 Q268.8,545 273.5,540 Q278,536.5 283,537 Q289,538.5 292,543.5 L297.3,549 L291,560 Z" fill="#fbfcfb" stroke="#111" stroke-width="1.3" stroke-linejoin="round" />
<path d="M282.7,560.7 L282.7,553.4 Q284,549 288,546.5 Q292,544.5 295.9,546.4 L297.3,549" fill="none" stroke="#111" stroke-width="2.2" stroke-linejoin="round" />
<path d="M284.5,552 Q286,547.5 290,545 Q294,543 297,546" fill="none" stroke="#111" stroke-width="1.1" stroke-linejoin="round" />
<path d="M318,565 L327,569 Q331,573 329,579 Q326,583.5 321,582.5 L314,579.5 Z" fill="#fbfcfb" stroke="#111" stroke-width="1.3" stroke-linejoin="round" />
<ellipse cx="316.8" cy="572.5" rx="3.6" ry="7.6" transform="rotate(-25 316.8 572.5)" fill="#fbfcfb" stroke="#111" stroke-width="1.3" />
<path d="M318.5,565.5 Q313.5,566 313,572 Q313,577 315,579.5" fill="none" stroke="#111" stroke-width="2.4" stroke-linejoin="round" />
<path d="M328.5,571.4 Q336,571 339.5,577 Q340,583 334,584.6 L328,583" fill="#fbfcfb" stroke="#111" stroke-width="1.3" stroke-linejoin="round" />
<path d="M333,574 Q331,579 334,584" fill="none" stroke="#111" stroke-width="1.1" stroke-linejoin="round" />
<line x1="340" y1="579" x2="345" y2="582" stroke="#111" stroke-width="1"/>
<text x="273.7" y="596.2" textLength="14.3" lengthAdjust="spacingAndGlyphs" class="l" style="font-size:15.5px">37</text>
<line x1="290.8" y1="585.4" x2="312.7" y2="575" stroke="#111" stroke-width="1"/>
<polygon points="324.6,539 329.3,539 329.3,554.8 324.6,554.8" fill="#fbfcfb" stroke="#111" stroke-width="1.6" stroke-linejoin="round" />
<line x1="327" y1="554.8" x2="327" y2="567" stroke="#111" stroke-width="1.1"/>
<text x="353.4" y="563.5" textLength="12.3" lengthAdjust="spacingAndGlyphs" class="l" style="font-size:15.5px">13</text>
<line x1="347" y1="555" x2="330" y2="547" stroke="#111" stroke-width="1"/>
<g transform="translate(361.5 590.5) rotate(27)">
<polygon points="-19,-9 19,-9 19,9 -19,9" fill="#fbfcfb" stroke="#111" stroke-width="1.2" stroke-linejoin="round" />
<ellipse cx="-17.0" cy="0" rx="2.6" ry="9" fill="none" stroke="#111" stroke-width="1.8"/>
<ellipse cx="-13.2" cy="0" rx="2.6" ry="9" fill="none" stroke="#111" stroke-width="1.8"/>
<ellipse cx="-9.4" cy="0" rx="2.6" ry="9" fill="none" stroke="#111" stroke-width="1.8"/>
<ellipse cx="-5.6" cy="0" rx="2.6" ry="9" fill="none" stroke="#111" stroke-width="1.8"/>
<ellipse cx="-1.8" cy="0" rx="2.6" ry="9" fill="none" stroke="#111" stroke-width="1.8"/>
<ellipse cx="2.0" cy="0" rx="2.6" ry="9" fill="none" stroke="#111" stroke-width="1.8"/>
<ellipse cx="5.8" cy="0" rx="2.6" ry="9" fill="none" stroke="#111" stroke-width="1.8"/>
<ellipse cx="9.6" cy="0" rx="2.6" ry="9" fill="none" stroke="#111" stroke-width="1.8"/>
<ellipse cx="13.4" cy="0" rx="2.6" ry="9" fill="none" stroke="#111" stroke-width="1.8"/>
<ellipse cx="17.2" cy="0" rx="2.6" ry="9" fill="none" stroke="#111" stroke-width="1.8"/>
</g>
<text x="316.6" y="614.6" textLength="12.3" lengthAdjust="spacingAndGlyphs" class="l" style="font-size:17.5px">11</text>
<line x1="329.3" y1="606.5" x2="351.2" y2="596" stroke="#111" stroke-width="1"/>
<ellipse cx="387.8" cy="608.2" rx="6.8" ry="9.6" transform="rotate(-40 387.8 608.2)" fill="#fbfcfb" stroke="#111" stroke-width="1.8" />
<ellipse cx="388" cy="608.3" rx="4.2" ry="6.8" transform="rotate(-40 388 608.3)" fill="#fbfcfb" stroke="#111" stroke-width="1.1" />
<text x="343.2" y="636" textLength="14.3" lengthAdjust="spacingAndGlyphs" class="l" style="font-size:17.5px">10</text>
<line x1="361.5" y1="628.6" x2="382.6" y2="618" stroke="#111" stroke-width="1"/>
<line x1="396" y1="610.5" x2="402" y2="614" stroke="#111" stroke-width="1"/>
<path d="M388.8,433.5 L391.4,443.5 L401.9,454 L403.6,454.9 L409.8,456.7 L416.8,455.4 L422,452.7 L424.7,448.8 L427.3,442.7 L423.3,431.3 Z" fill="#fbfcfb" stroke="#111" stroke-width="1.4" stroke-linejoin="round" />
<polygon points="388.8,426.9 391.4,423 398.4,417.7 407.1,417.7 412.4,420.8 421.2,426 423.3,431.3 421.2,435.6 413.3,440.9 408.9,442.2 401.9,442.2 393.1,437.4 388.8,433.5" fill="#fbfcfb" stroke="#111" stroke-width="1.5" stroke-linejoin="round" />
<line x1="403.2" y1="442.7" x2="404.5" y2="454.9" stroke="#111" stroke-width="1.2"/>
<line x1="415" y1="441.8" x2="416.8" y2="452.3" stroke="#111" stroke-width="1.2"/>
<line x1="421.2" y1="435.6" x2="424.7" y2="448.8" stroke="#111" stroke-width="1.1"/>
<path d="M403.2,455.8 L406.3,466.3 L416.8,468 L422.9,461.9 L422,453.2" fill="#fbfcfb" stroke="#111" stroke-width="1.3" stroke-linejoin="round" />
<line x1="416.8" y1="468" x2="418" y2="474" stroke="#111" stroke-width="1"/>
<text x="450.6" y="423.4" textLength="11.4" lengthAdjust="spacingAndGlyphs" class="l" style="font-size:15.9px">35</text>
<line x1="450" y1="422.3" x2="424.7" y2="435.6" stroke="#111" stroke-width="1"/>
<path d="M415.5,490.8 L418,512 Q421,516 426,515.4 Q432,514 434,509 L431,489" fill="#fbfcfb" stroke="#111" stroke-width="1.3" stroke-linejoin="round" />
<polygon points="408.5,478 413,474.5 420,474.2 427.5,476 431.3,481 430.5,487.5 426,492.5 419,494.3 412,492 408,486" fill="#fbfcfb" stroke="#111" stroke-width="1.4" stroke-linejoin="round" />
<polygon points="414.5,484 419.5,479.5 424.5,482 421,487" fill="#111" stroke="#111" stroke-width="1" stroke-linejoin="round" />
<line x1="415.5" y1="491.5" x2="427" y2="496" stroke="#111" stroke-width="1.1"/>
<text x="457.6" y="489" textLength="5.2" lengthAdjust="spacingAndGlyphs" class="l" style="font-size:14.5px">2</text>
<line x1="456.7" y1="490.8" x2="434" y2="500.5" stroke="#111" stroke-width="1"/>
<polygon points="424.6,524 427.5,520 434,519.4 439.5,522.5 441,528.5 436.5,532.6 429,532.6 424.6,529" fill="#1a1a1a" stroke="#111" stroke-width="1.5" stroke-linejoin="round" />
<ellipse cx="432.5" cy="526" rx="3.8" ry="3.4" transform="rotate(0 432.5 526)" fill="#fbfcfb" stroke="#fff" stroke-width="1.2" />
<line x1="429" y1="523" x2="436" y2="529" stroke="#111" stroke-width="1.3"/>
<line x1="429" y1="529" x2="436" y2="523" stroke="#111" stroke-width="1.3"/>
<text x="465.5" y="512.5" textLength="5" lengthAdjust="spacingAndGlyphs" class="l" style="font-size:14.5px">3</text>
<line x1="462.8" y1="511.9" x2="440" y2="522.4" stroke="#111" stroke-width="1"/>
<path d="M437.9,562.5 L447.7,602.3 L446.5,600.5 L423.8,589.4 Q418,586.5 414.6,589.4 Q410,592 410.9,596.2 L412.2,601 L417.7,621.9 L422.6,622 L428.1,618.2 L422.6,600.5 L421.3,598 L444,609 Q448,613 452.6,614 Q457,614 460,606.6 L458.7,603.5 L447.7,561.2 Z" fill="#fbfcfb" stroke="#111" stroke-width="1.3" stroke-linejoin="round" />
<line x1="444" y1="603.5" x2="446.5" y2="608.4" stroke="#111" stroke-width="1"/>
<line x1="412.2" y1="600.5" x2="418.9" y2="600.5" stroke="#111" stroke-width="1.1"/>
<line x1="421.3" y1="598" x2="423.8" y2="589.4" stroke="#111" stroke-width="1.1"/>
<path d="M401.7,618.2 L403.6,613.3 L410.9,609.7 L413.4,610.9 L417.7,621.9 L430.5,618.2 L435.4,620.7 L438.5,624.4 L437.9,634.2 L433,639.7 L428.1,640.9 L423.2,637.8 L402.4,625.6 Z" fill="#fbfcfb" stroke="#111" stroke-width="1.3" stroke-linejoin="round" />
<ellipse cx="430.5" cy="630.5" rx="6.8" ry="7.4" transform="rotate(-20 430.5 630.5)" fill="#fbfcfb" stroke="#111" stroke-width="1.3" />
<ellipse cx="430.5" cy="631" rx="4.3" ry="5" transform="rotate(-20 430.5 631)" fill="none" stroke="#111" stroke-width="1.1" />
<g transform="translate(440 549) rotate(-76)">
<rect x="-13.5" y="-4.5" width="27" height="9" rx="3.5" fill="#111" stroke="#111" stroke-width="1"/>
<line x1="-9" y1="-2.5" x2="-7" y2="2.5" stroke="#fff" stroke-width="1.1"/>
<line x1="-5" y1="-2.5" x2="-3" y2="2.5" stroke="#fff" stroke-width="1.1"/>
<line x1="-1" y1="-2.5" x2="1" y2="2.5" stroke="#fff" stroke-width="1.1"/>
<line x1="3" y1="-2.5" x2="5" y2="2.5" stroke="#fff" stroke-width="1.1"/>
<line x1="7" y1="-2.5" x2="9" y2="2.5" stroke="#fff" stroke-width="1.1"/>
</g>
<text x="476" y="566.7" textLength="14" lengthAdjust="spacingAndGlyphs" class="l" style="font-size:15.9px">36</text>
<line x1="473.4" y1="569.2" x2="453.8" y2="579" stroke="#111" stroke-width="1"/>
<line x1="395" y1="612" x2="401.7" y2="616.4" stroke="#111" stroke-width="1"/>
</svg>
</body></html>
